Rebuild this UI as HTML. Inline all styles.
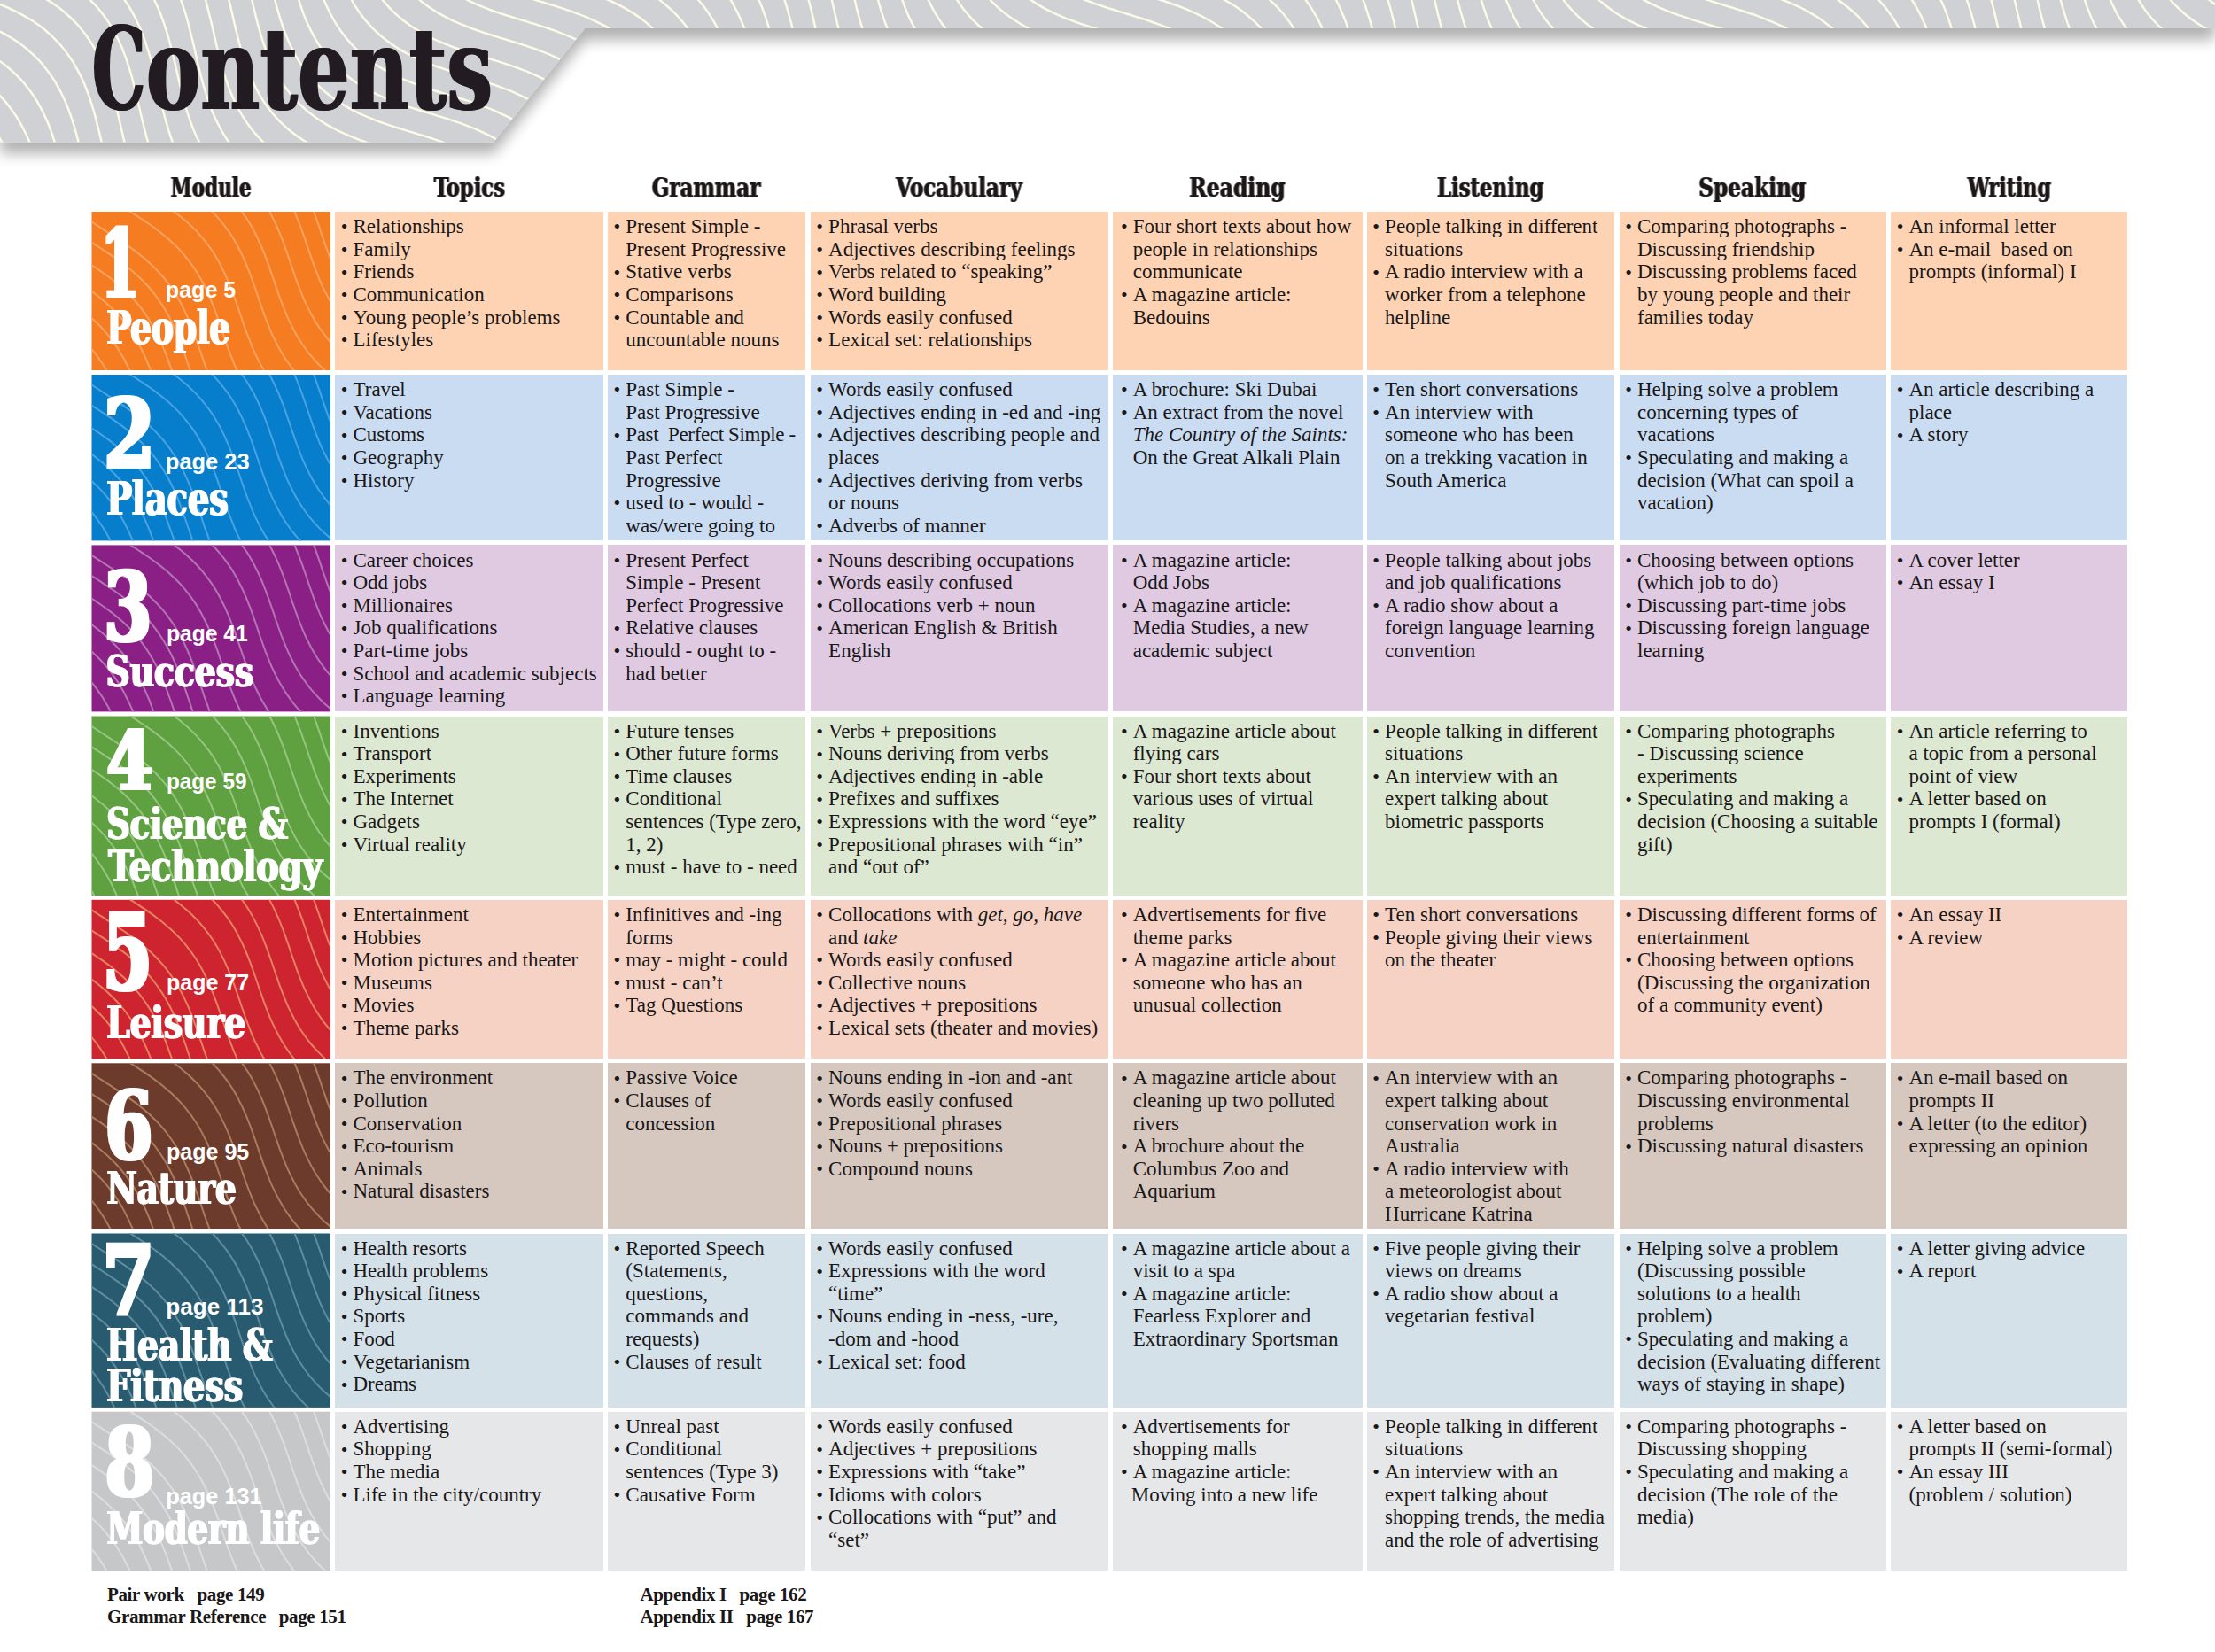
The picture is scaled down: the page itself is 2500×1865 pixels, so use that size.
<!DOCTYPE html>
<html lang="en"><head><meta charset="utf-8"><title>Contents</title>
<style>
html,body{margin:0;padding:0;background:#fff}
body{width:2500px;height:1865px;position:relative;overflow:hidden;font-family:"Liberation Serif",serif;color:#1a1718}
#art{position:absolute;left:0;top:0}
.c{position:absolute;box-sizing:border-box;padding:4.2px 0 0 20.5px;font-size:23px;line-height:25.6px;white-space:nowrap;letter-spacing:0}
.c p{margin:0;position:relative}
.c p b{position:absolute;left:-13.8px;top:0.3px;font-size:22px;font-weight:normal}
.ft{position:absolute;font-weight:bold;font-size:21px;line-height:25.3px;white-space:pre;letter-spacing:-0.36px}
</style></head><body>
<div class="c" style="left:378.0px;top:239.0px;width:303.0px;height:179.0px;background:#fdd3b4"><p><b>•</b>Relationships</p><p><b>•</b>Family</p><p><b>•</b>Friends</p><p><b>•</b>Communication</p><p><b>•</b>Young people’s problems</p><p><b>•</b>Lifestyles</p></div>
<div class="c" style="left:685.8px;top:239.0px;width:223.7px;height:179.0px;background:#fdd3b4"><p><b>•</b>Present Simple -<br>Present Progressive</p><p><b>•</b>Stative verbs</p><p><b>•</b>Comparisons</p><p><b>•</b>Countable and<br>uncountable nouns</p></div>
<div class="c" style="left:914.6px;top:239.0px;width:336.2px;height:179.0px;background:#fdd3b4"><p><b>•</b>Phrasal verbs</p><p><b>•</b>Adjectives describing feelings</p><p><b>•</b>Verbs related to “speaking”</p><p><b>•</b>Word building</p><p><b>•</b>Words easily confused</p><p><b>•</b>Lexical set: relationships</p></div>
<div class="c" style="left:1256.0px;top:239.0px;width:281.6px;height:179.0px;background:#fdd3b4;padding-left:22.7px"><p><b>•</b>Four short texts about how<br>people in relationships<br>communicate</p><p><b>•</b>A magazine article:<br>Bedouins</p></div>
<div class="c" style="left:1542.6px;top:239.0px;width:279.9px;height:179.0px;background:#fdd3b4"><p><b>•</b>People talking in different<br>situations</p><p><b>•</b>A radio interview with a<br>worker from a telephone<br>helpline</p></div>
<div class="c" style="left:1827.5px;top:239.0px;width:301.5px;height:179.0px;background:#fdd3b4"><p><b>•</b>Comparing photographs -<br>Discussing friendship</p><p><b>•</b>Discussing problems faced<br>by young people and their<br>families today</p></div>
<div class="c" style="left:2134.0px;top:239.0px;width:267.0px;height:179.0px;background:#fdd3b4"><p><b>•</b>An informal letter</p><p><b>•</b>An e-mail&nbsp; based on<br>prompts (informal) I</p></div>
<div class="c" style="left:378.0px;top:423.0px;width:303.0px;height:187.4px;background:#c9dcf2"><p><b>•</b>Travel</p><p><b>•</b>Vacations</p><p><b>•</b>Customs</p><p><b>•</b>Geography</p><p><b>•</b>History</p></div>
<div class="c" style="left:685.8px;top:423.0px;width:223.7px;height:187.4px;background:#c9dcf2"><p><b>•</b>Past Simple -<br>Past Progressive</p><p><b>•</b><span style="letter-spacing:-0.35px">Past&nbsp; Perfect Simple -</span><br>Past Perfect<br>Progressive</p><p><b>•</b>used to - would -<br>was/were going to</p></div>
<div class="c" style="left:914.6px;top:423.0px;width:336.2px;height:187.4px;background:#c9dcf2"><p><b>•</b>Words easily confused</p><p><b>•</b>Adjectives ending in -ed and -ing</p><p><b>•</b>Adjectives describing people and<br>places</p><p><b>•</b>Adjectives deriving from verbs<br>or nouns</p><p><b>•</b>Adverbs of manner</p></div>
<div class="c" style="left:1256.0px;top:423.0px;width:281.6px;height:187.4px;background:#c9dcf2;padding-left:22.7px"><p><b>•</b>A brochure: Ski Dubai</p><p><b>•</b>An extract from the novel<br><i>The Country of the Saints:</i><br>On the Great Alkali Plain</p></div>
<div class="c" style="left:1542.6px;top:423.0px;width:279.9px;height:187.4px;background:#c9dcf2"><p><b>•</b>Ten short conversations</p><p><b>•</b>An interview with<br>someone who has been<br>on a trekking vacation in<br>South America</p></div>
<div class="c" style="left:1827.5px;top:423.0px;width:301.5px;height:187.4px;background:#c9dcf2"><p><b>•</b>Helping solve a problem<br>concerning types of<br>vacations</p><p><b>•</b>Speculating and making a<br>decision (What can spoil a<br>vacation)</p></div>
<div class="c" style="left:2134.0px;top:423.0px;width:267.0px;height:187.4px;background:#c9dcf2"><p><b>•</b>An article describing a<br>place</p><p><b>•</b>A story</p></div>
<div class="c" style="left:378.0px;top:615.4px;width:303.0px;height:188.0px;background:#dfcae2"><p><b>•</b>Career choices</p><p><b>•</b>Odd jobs</p><p><b>•</b>Millionaires</p><p><b>•</b>Job qualifications</p><p><b>•</b>Part-time jobs</p><p><b>•</b>School and academic subjects</p><p><b>•</b>Language learning</p></div>
<div class="c" style="left:685.8px;top:615.4px;width:223.7px;height:188.0px;background:#dfcae2"><p><b>•</b>Present Perfect<br>Simple - Present<br>Perfect Progressive</p><p><b>•</b>Relative clauses</p><p><b>•</b>should - ought to -<br>had better</p></div>
<div class="c" style="left:914.6px;top:615.4px;width:336.2px;height:188.0px;background:#dfcae2"><p><b>•</b>Nouns describing occupations</p><p><b>•</b>Words easily confused</p><p><b>•</b>Collocations verb + noun</p><p><b>•</b>American English &amp; British<br>English</p></div>
<div class="c" style="left:1256.0px;top:615.4px;width:281.6px;height:188.0px;background:#dfcae2;padding-left:22.7px"><p><b>•</b>A magazine article:<br>Odd Jobs</p><p><b>•</b>A magazine article:<br>Media Studies, a new<br>academic subject</p></div>
<div class="c" style="left:1542.6px;top:615.4px;width:279.9px;height:188.0px;background:#dfcae2"><p><b>•</b>People talking about jobs<br>and job qualifications</p><p><b>•</b>A radio show about a<br>foreign language learning<br>convention</p></div>
<div class="c" style="left:1827.5px;top:615.4px;width:301.5px;height:188.0px;background:#dfcae2"><p><b>•</b>Choosing between options<br>(which job to do)</p><p><b>•</b>Discussing part-time jobs</p><p><b>•</b>Discussing foreign language<br>learning</p></div>
<div class="c" style="left:2134.0px;top:615.4px;width:267.0px;height:188.0px;background:#dfcae2"><p><b>•</b>A cover letter</p><p><b>•</b>An essay I</p></div>
<div class="c" style="left:378.0px;top:808.5px;width:303.0px;height:202.5px;background:#dde8d2"><p><b>•</b>Inventions</p><p><b>•</b>Transport</p><p><b>•</b>Experiments</p><p><b>•</b>The Internet</p><p><b>•</b>Gadgets</p><p><b>•</b>Virtual reality</p></div>
<div class="c" style="left:685.8px;top:808.5px;width:223.7px;height:202.5px;background:#dde8d2"><p><b>•</b>Future tenses</p><p><b>•</b>Other future forms</p><p><b>•</b>Time clauses</p><p><b>•</b>Conditional<br>sentences (Type zero,<br>1, 2)</p><p><b>•</b>must - have to - need</p></div>
<div class="c" style="left:914.6px;top:808.5px;width:336.2px;height:202.5px;background:#dde8d2"><p><b>•</b>Verbs + prepositions</p><p><b>•</b>Nouns deriving from verbs</p><p><b>•</b>Adjectives ending in -able</p><p><b>•</b>Prefixes and suffixes</p><p><b>•</b>Expressions with the word “eye”</p><p><b>•</b>Prepositional phrases with “in”<br>and “out of”</p></div>
<div class="c" style="left:1256.0px;top:808.5px;width:281.6px;height:202.5px;background:#dde8d2;padding-left:22.7px"><p><b>•</b>A magazine article about<br>flying cars</p><p><b>•</b>Four short texts about<br>various uses of virtual<br>reality</p></div>
<div class="c" style="left:1542.6px;top:808.5px;width:279.9px;height:202.5px;background:#dde8d2"><p><b>•</b>People talking in different<br>situations</p><p><b>•</b>An interview with an<br>expert talking about<br>biometric passports</p></div>
<div class="c" style="left:1827.5px;top:808.5px;width:301.5px;height:202.5px;background:#dde8d2"><p><b>•</b>Comparing photographs<br>- Discussing science<br>experiments</p><p><b>•</b>Speculating and making a<br>decision (Choosing a suitable<br>gift)</p></div>
<div class="c" style="left:2134.0px;top:808.5px;width:267.0px;height:202.5px;background:#dde8d2"><p><b>•</b>An article referring to<br>a topic from a personal<br>point of view</p><p><b>•</b>A letter based on<br>prompts I (formal)</p></div>
<div class="c" style="left:378.0px;top:1015.8px;width:303.0px;height:179.4px;background:#f5d2c4"><p><b>•</b>Entertainment</p><p><b>•</b>Hobbies</p><p><b>•</b>Motion pictures and theater</p><p><b>•</b>Museums</p><p><b>•</b>Movies</p><p><b>•</b>Theme parks</p></div>
<div class="c" style="left:685.8px;top:1015.8px;width:223.7px;height:179.4px;background:#f5d2c4"><p><b>•</b>Infinitives and -ing<br>forms</p><p><b>•</b>may - might - could</p><p><b>•</b>must - can’t</p><p><b>•</b>Tag Questions</p></div>
<div class="c" style="left:914.6px;top:1015.8px;width:336.2px;height:179.4px;background:#f5d2c4"><p><b>•</b>Collocations with <i>get, go, have</i><br>and <i>take</i></p><p><b>•</b>Words easily confused</p><p><b>•</b>Collective nouns</p><p><b>•</b>Adjectives + prepositions</p><p><b>•</b>Lexical sets (theater and movies)</p></div>
<div class="c" style="left:1256.0px;top:1015.8px;width:281.6px;height:179.4px;background:#f5d2c4;padding-left:22.7px"><p><b>•</b>Advertisements for five<br>theme parks</p><p><b>•</b>A magazine article about<br>someone who has an<br>unusual collection</p></div>
<div class="c" style="left:1542.6px;top:1015.8px;width:279.9px;height:179.4px;background:#f5d2c4"><p><b>•</b>Ten short conversations</p><p><b>•</b>People giving their views<br>on the theater</p></div>
<div class="c" style="left:1827.5px;top:1015.8px;width:301.5px;height:179.4px;background:#f5d2c4"><p><b>•</b>Discussing different forms of<br>entertainment</p><p><b>•</b>Choosing between options<br>(Discussing the organization<br>of a community event)</p></div>
<div class="c" style="left:2134.0px;top:1015.8px;width:267.0px;height:179.4px;background:#f5d2c4"><p><b>•</b>An essay II</p><p><b>•</b>A review</p></div>
<div class="c" style="left:378.0px;top:1200.3px;width:303.0px;height:187.1px;background:#d7c8bf"><p><b>•</b>The environment</p><p><b>•</b>Pollution</p><p><b>•</b>Conservation</p><p><b>•</b>Eco-tourism</p><p><b>•</b>Animals</p><p><b>•</b>Natural disasters</p></div>
<div class="c" style="left:685.8px;top:1200.3px;width:223.7px;height:187.1px;background:#d7c8bf"><p><b>•</b>Passive Voice</p><p><b>•</b>Clauses of<br>concession</p></div>
<div class="c" style="left:914.6px;top:1200.3px;width:336.2px;height:187.1px;background:#d7c8bf"><p><b>•</b>Nouns ending in -ion and -ant</p><p><b>•</b>Words easily confused</p><p><b>•</b>Prepositional phrases</p><p><b>•</b>Nouns + prepositions</p><p><b>•</b>Compound nouns</p></div>
<div class="c" style="left:1256.0px;top:1200.3px;width:281.6px;height:187.1px;background:#d7c8bf;padding-left:22.7px"><p><b>•</b>A magazine article about<br>cleaning up two polluted<br>rivers</p><p><b>•</b>A brochure about the<br>Columbus Zoo and<br>Aquarium</p></div>
<div class="c" style="left:1542.6px;top:1200.3px;width:279.9px;height:187.1px;background:#d7c8bf"><p><b>•</b>An interview with an<br>expert talking about<br>conservation work in<br>Australia</p><p><b>•</b>A radio interview with<br>a meteorologist about<br>Hurricane Katrina</p></div>
<div class="c" style="left:1827.5px;top:1200.3px;width:301.5px;height:187.1px;background:#d7c8bf"><p><b>•</b>Comparing photographs -<br>Discussing environmental<br>problems</p><p><b>•</b>Discussing natural disasters</p></div>
<div class="c" style="left:2134.0px;top:1200.3px;width:267.0px;height:187.1px;background:#d7c8bf"><p><b>•</b>An e-mail based on<br>prompts II</p><p><b>•</b>A letter (to the editor)<br>expressing an opinion</p></div>
<div class="c" style="left:378.0px;top:1392.5px;width:303.0px;height:196.4px;background:#d4e1e8"><p><b>•</b>Health resorts</p><p><b>•</b>Health problems</p><p><b>•</b>Physical fitness</p><p><b>•</b>Sports</p><p><b>•</b>Food</p><p><b>•</b>Vegetarianism</p><p><b>•</b>Dreams</p></div>
<div class="c" style="left:685.8px;top:1392.5px;width:223.7px;height:196.4px;background:#d4e1e8"><p><b>•</b>Reported Speech<br>(Statements,<br>questions,<br>commands and<br>requests)</p><p><b>•</b>Clauses of result</p></div>
<div class="c" style="left:914.6px;top:1392.5px;width:336.2px;height:196.4px;background:#d4e1e8"><p><b>•</b>Words easily confused</p><p><b>•</b>Expressions with the word<br>“time”</p><p><b>•</b>Nouns ending in -ness, -ure,<br>-dom and -hood</p><p><b>•</b>Lexical set: food</p></div>
<div class="c" style="left:1256.0px;top:1392.5px;width:281.6px;height:196.4px;background:#d4e1e8;padding-left:22.7px"><p><b>•</b>A magazine article about a<br>visit to a spa</p><p><b>•</b>A magazine article:<br>Fearless Explorer and<br>Extraordinary Sportsman</p></div>
<div class="c" style="left:1542.6px;top:1392.5px;width:279.9px;height:196.4px;background:#d4e1e8"><p><b>•</b>Five people giving their<br>views on dreams</p><p><b>•</b>A radio show about a<br>vegetarian festival</p></div>
<div class="c" style="left:1827.5px;top:1392.5px;width:301.5px;height:196.4px;background:#d4e1e8"><p><b>•</b>Helping solve a problem<br>(Discussing possible<br>solutions to a health<br>problem)</p><p><b>•</b>Speculating and making a<br>decision (Evaluating different<br>ways of staying in shape)</p></div>
<div class="c" style="left:2134.0px;top:1392.5px;width:267.0px;height:196.4px;background:#d4e1e8"><p><b>•</b>A letter giving advice</p><p><b>•</b>A report</p></div>
<div class="c" style="left:378.0px;top:1593.7px;width:303.0px;height:179.5px;background:#e6e7e8"><p><b>•</b>Advertising</p><p><b>•</b>Shopping</p><p><b>•</b>The media</p><p><b>•</b>Life in the city/country</p></div>
<div class="c" style="left:685.8px;top:1593.7px;width:223.7px;height:179.5px;background:#e6e7e8"><p><b>•</b>Unreal past</p><p><b>•</b>Conditional<br>sentences (Type 3)</p><p><b>•</b>Causative Form</p></div>
<div class="c" style="left:914.6px;top:1593.7px;width:336.2px;height:179.5px;background:#e6e7e8"><p><b>•</b>Words easily confused</p><p><b>•</b>Adjectives + prepositions</p><p><b>•</b>Expressions with “take”</p><p><b>•</b>Idioms with colors</p><p><b>•</b>Collocations with “put” and<br>“set”</p></div>
<div class="c" style="left:1256.0px;top:1593.7px;width:281.6px;height:179.5px;background:#e6e7e8;padding-left:22.7px"><p><b>•</b>Advertisements for<br>shopping malls</p><p><b>•</b>A magazine article:<br><span style="margin-left:-2px">Moving into a new life</span></p></div>
<div class="c" style="left:1542.6px;top:1593.7px;width:279.9px;height:179.5px;background:#e6e7e8"><p><b>•</b>People talking in different<br>situations</p><p><b>•</b>An interview with an<br>expert talking about<br>shopping trends, the media<br>and the role of advertising</p></div>
<div class="c" style="left:1827.5px;top:1593.7px;width:301.5px;height:179.5px;background:#e6e7e8"><p><b>•</b>Comparing photographs -<br>Discussing shopping</p><p><b>•</b>Speculating and making a<br>decision (The role of the<br>media)</p></div>
<div class="c" style="left:2134.0px;top:1593.7px;width:267.0px;height:179.5px;background:#e6e7e8"><p><b>•</b>A letter based on<br>prompts II (semi-formal)</p><p><b>•</b>An essay III<br>(problem / solution)</p></div>
<div class="ft" style="left:121px;top:1787.8px">Pair work   page 149
Grammar Reference   page 151</div>
<div class="ft" style="left:722.5px;top:1787.8px">Appendix I   page 162
Appendix II   page 167</div>
<svg id="art" width="2500" height="1865" viewBox="0 0 2500 1865">
<defs><filter id="sh" x="-5%" y="-20%" width="110%" height="160%"><feGaussianBlur in="SourceAlpha" stdDeviation="8"/><feOffset dx="0" dy="13"/><feComponentTransfer><feFuncA type="linear" slope="0.31"/></feComponentTransfer><feMerge><feMergeNode/><feMergeNode in="SourceGraphic"/></feMerge></filter>
<filter id="f1" x="-5%" y="-20%" width="110%" height="140%"><feMorphology operator="dilate" radius="1 0" result="d"/><feComponentTransfer in="d" result="e"><feFuncA type="linear" slope="1.00"/></feComponentTransfer><feMerge><feMergeNode in="e"/><feMergeNode in="SourceGraphic"/></feMerge></filter>
<filter id="f2" x="-5%" y="-20%" width="110%" height="140%"><feMorphology operator="dilate" radius="1 0" result="d"/><feComponentTransfer in="d" result="e"><feFuncA type="linear" slope="0.55"/></feComponentTransfer><feMerge><feMergeNode in="e"/><feMergeNode in="SourceGraphic"/></feMerge></filter>
<filter id="f3" x="-5%" y="-20%" width="110%" height="140%"><feMorphology operator="dilate" radius="2 1" result="d"/><feComponentTransfer in="d" result="e"><feFuncA type="linear" slope="1.00"/></feComponentTransfer><feMerge><feMergeNode in="e"/><feMergeNode in="SourceGraphic"/></feMerge></filter>
<filter id="f4" x="-5%" y="-20%" width="110%" height="140%"><feMorphology operator="dilate" radius="1 0" result="d"/><feComponentTransfer in="d" result="e"><feFuncA type="linear" slope="1.00"/></feComponentTransfer><feMerge><feMergeNode in="e"/><feMergeNode in="SourceGraphic"/></feMerge></filter>
<clipPath id="band"><path d="M0,0H2500V32H660L557,160.5H0Z"/></clipPath>
<clipPath id="m0"><rect x="103.5" y="239.0" width="269.5" height="179.0"/></clipPath>
<clipPath id="m1"><rect x="103.5" y="423.0" width="269.5" height="187.4"/></clipPath>
<clipPath id="m2"><rect x="103.5" y="615.4" width="269.5" height="188.0"/></clipPath>
<clipPath id="m3"><rect x="103.5" y="808.5" width="269.5" height="202.5"/></clipPath>
<clipPath id="m4"><rect x="103.5" y="1015.8" width="269.5" height="179.4"/></clipPath>
<clipPath id="m5"><rect x="103.5" y="1200.3" width="269.5" height="187.1"/></clipPath>
<clipPath id="m6"><rect x="103.5" y="1392.5" width="269.5" height="196.4"/></clipPath>
<clipPath id="m7"><rect x="103.5" y="1593.7" width="269.5" height="179.5"/></clipPath>
</defs>
<path d="M0,0H2500V32H660L557,160.5H0Z" fill="#d0d1d4" filter="url(#sh)"/>
<g clip-path="url(#band)" fill="none" stroke="#fdfbe8" stroke-width="2.4">
<path d="M-9.1,143.1 -6.2,147.2 -3.3,151.3 -0.6,155.6 1.9,160.1 4.4,164.6 6.8,169.2 9.0,174.0"/>
<path d="M-8.3,100.3 -4.6,103.6 -1.1,107.1 2.4,110.6 5.7,114.3 8.8,118.2 11.9,122.1 14.8,126.2 17.7,130.3 20.4,134.6 22.9,139.1 25.4,143.6 27.8,148.2 30.0,153.0 32.2,157.8 34.2,162.8 36.1,167.9 38.0,173.0"/>
<path d="M-7.3,64.3 -3.1,67.1 1.1,69.9 5.1,72.9 9.0,76.0 12.7,79.3 16.4,82.6 19.9,86.1 23.4,89.6 26.7,93.3 29.8,97.2 32.9,101.1 35.8,105.2 38.7,109.3 41.4,113.6 43.9,118.1 46.4,122.6 48.8,127.2 51.0,132.0 53.2,136.8 55.2,141.8 57.1,146.9 59.0,152.0 60.7,157.3 62.4,162.6 64.0,168.0 65.5,173.5"/>
<path d="M-9.1,31.1 -4.3,33.3 0.3,35.7 4.9,38.1 9.3,40.7 13.7,43.3 17.9,46.1 22.1,48.9 26.1,51.9 30.0,55.0 33.7,58.3 37.4,61.6 40.9,65.1 44.4,68.6 47.7,72.3 50.8,76.2 53.9,80.1 56.8,84.2 59.7,88.3 62.4,92.6 64.9,97.1 67.4,101.6 69.8,106.2 72.0,111.0 74.2,115.8 76.2,120.8 78.1,125.9 80.0,131.0 81.7,136.3 83.4,141.6 85.0,147.0 86.5,152.5 87.9,158.1 89.3,163.7 90.7,169.3 92.1,174.9"/>
<path d="M-8.0,2.0 -2.9,3.9 2.1,5.9 7.1,7.9 11.9,10.1 16.7,12.3 21.3,14.7 25.9,17.1 30.3,19.7 34.7,22.3 38.9,25.1 43.1,27.9 47.1,30.9 51.0,34.0 54.7,37.3 58.4,40.6 61.9,44.1 65.4,47.6 68.7,51.3 71.8,55.2 74.9,59.1 77.8,63.2 80.7,67.3 83.4,71.6 85.9,76.1 88.4,80.6 90.8,85.2 93.0,90.0 95.2,94.8 97.2,99.8 99.1,104.9 101.0,110.0 102.7,115.3 104.4,120.6 106.0,126.0 107.5,131.5 108.9,137.1 110.3,142.7 111.7,148.3 113.1,153.9 114.4,159.6 115.7,165.3 117.0,171.0"/>
<path d="M37.7,-8.7 42.3,-6.3 46.9,-3.9 51.3,-1.3 55.7,1.3 59.9,4.1 64.1,6.9 68.1,9.9 72.0,13.0 75.7,16.3 79.4,19.6 82.9,23.1 86.4,26.6 89.7,30.3 92.8,34.2 95.9,38.1 98.8,42.2 101.7,46.3 104.4,50.6 106.9,55.1 109.4,59.6 111.8,64.2 114.0,69.0 116.2,73.8 118.2,78.8 120.1,83.9 122.0,89.0 123.7,94.3 125.4,99.6 127.0,105.0 128.5,110.5 129.9,116.1 131.3,121.7 132.7,127.3 134.1,132.9 135.4,138.6 136.7,144.3 138.0,150.0 139.3,155.7 140.7,161.3 142.1,166.9 143.5,172.5"/>
<path d="M93.0,-8.0 96.7,-4.7 100.4,-1.4 103.9,2.1 107.4,5.6 110.7,9.3 113.8,13.2 116.9,17.1 119.8,21.2 122.7,25.3 125.4,29.6 127.9,34.1 130.4,38.6 132.8,43.2 135.0,48.0 137.2,52.8 139.2,57.8 141.1,62.9 143.0,68.0 144.7,73.3 146.4,78.6 148.0,84.0 149.5,89.5 150.9,95.1 152.3,100.7 153.7,106.3 155.1,111.9 156.4,117.6 157.7,123.3 159.0,129.0 160.3,134.7 161.7,140.3 163.1,145.9 164.5,151.5 166.0,157.0 167.6,162.4 169.2,167.8 170.9,173.1"/>
<path d="M134.8,-7.8 137.9,-3.9 140.8,0.2 143.7,4.3 146.4,8.6 148.9,13.1 151.4,17.6 153.8,22.2 156.0,27.0 158.2,31.8 160.2,36.8 162.1,41.9 164.0,47.0 165.7,52.3 167.4,57.6 169.0,63.0 170.5,68.5 171.9,74.1 173.3,79.7 174.7,85.3 176.1,90.9 177.4,96.6 178.7,102.3 180.0,108.0 181.3,113.7 182.7,119.3 184.1,124.9 185.5,130.5 187.0,136.0 188.6,141.4 190.2,146.8 191.9,152.1 193.7,157.3 195.5,162.5 197.5,167.5 199.6,172.4"/>
<path d="M169.9,-7.9 172.4,-3.4 174.8,1.2 177.0,6.0 179.2,10.8 181.2,15.8 183.1,20.9 185.0,26.0 186.7,31.3 188.4,36.6 190.0,42.0 191.5,47.5 192.9,53.1 194.3,58.7 195.7,64.3 197.1,69.9 198.4,75.6 199.7,81.3 201.0,87.0 202.3,92.7 203.7,98.3 205.1,103.9 206.5,109.5 208.0,115.0 209.6,120.4 211.2,125.8 212.9,131.1 214.7,136.3 216.5,141.5 218.5,146.5 220.6,151.4 222.8,156.2 225.1,160.9 227.5,165.5 230.0,170.0 232.6,174.4"/>
<path d="M202.2,-5.2 204.1,-0.1 206.0,5.0 207.7,10.3 209.4,15.6 211.0,21.0 212.5,26.5 213.9,32.1 215.3,37.7 216.7,43.3 218.1,48.9 219.4,54.6 220.7,60.3 222.0,66.0 223.3,71.7 224.7,77.3 226.1,82.9 227.5,88.5 229.0,94.0 230.6,99.4 232.2,104.8 233.9,110.1 235.7,115.3 237.5,120.5 239.5,125.5 241.6,130.4 243.8,135.2 246.1,139.9 248.5,144.5 251.0,149.0 253.6,153.4 256.4,157.6 259.2,161.8 262.2,165.8 265.3,169.7 268.6,173.4"/>
<path d="M230.4,-5.4 232.0,0.0 233.5,5.5 234.9,11.1 236.3,16.7 237.7,22.3 239.1,27.9 240.4,33.6 241.7,39.3 243.0,45.0 244.3,50.7 245.7,56.3 247.1,61.9 248.5,67.5 250.0,73.0 251.6,78.4 253.2,83.8 254.9,89.1 256.7,94.3 258.5,99.5 260.5,104.5 262.6,109.4 264.8,114.2 267.1,118.9 269.5,123.5 272.0,128.0 274.6,132.4 277.4,136.6 280.2,140.8 283.2,144.8 286.3,148.7 289.6,152.4 292.9,156.1 296.4,159.6 300.0,163.0 303.7,166.3 307.5,169.5 311.5,172.5"/>
<path d="M255.9,-9.9 257.3,-4.3 258.7,1.3 260.1,6.9 261.4,12.6 262.7,18.3 264.0,24.0 265.3,29.7 266.7,35.3 268.1,40.9 269.5,46.5 271.0,52.0 272.6,57.4 274.2,62.8 275.9,68.1 277.7,73.3 279.5,78.5 281.5,83.5 283.6,88.4 285.8,93.2 288.1,97.9 290.5,102.5 293.0,107.0 295.6,111.4 298.4,115.6 301.2,119.8 304.2,123.8 307.3,127.7 310.6,131.4 313.9,135.1 317.4,138.6 321.0,142.0 324.7,145.3 328.5,148.5 332.5,151.5 336.5,154.5 340.7,157.3 345.0,160.0 349.4,162.6 353.9,165.1 358.5,167.5 363.2,169.8 368.0,172.0 372.9,174.1"/>
<path d="M282.4,-8.4 283.7,-2.7 285.0,3.0 286.3,8.7 287.7,14.3 289.1,19.9 290.5,25.5 292.0,31.0 293.6,36.4 295.2,41.8 296.9,47.1 298.7,52.3 300.5,57.5 302.5,62.5 304.6,67.4 306.8,72.2 309.1,76.9 311.5,81.5 314.0,86.0 316.6,90.4 319.4,94.6 322.2,98.8 325.2,102.8 328.3,106.7 331.6,110.4 334.9,114.1 338.4,117.6 342.0,121.0 345.7,124.3 349.5,127.5 353.5,130.5 357.5,133.5 361.7,136.3 366.0,139.0 370.4,141.6 374.9,144.1 379.5,146.5 384.2,148.8 389.0,151.0 393.9,153.1 398.9,155.1 403.9,157.1 409.0,159.0 414.2,160.8 419.4,162.6 424.7,164.3 430.0,166.0 435.3,167.7 440.7,169.3 446.1,170.9 451.4,172.6 456.8,174.2"/>
<path d="M308.7,-6.7 310.1,-1.1 311.5,4.5 313.0,10.0 314.6,15.4 316.2,20.8 317.9,26.1 319.7,31.3 321.5,36.5 323.5,41.5 325.6,46.4 327.8,51.2 330.1,55.9 332.5,60.5 335.0,65.0 337.6,69.4 340.4,73.6 343.2,77.8 346.2,81.8 349.3,85.7 352.6,89.4 355.9,93.1 359.4,96.6 363.0,100.0 366.7,103.3 370.5,106.5 374.5,109.5 378.5,112.5 382.7,115.3 387.0,118.0 391.4,120.6 395.9,123.1 400.5,125.5 405.2,127.8 410.0,130.0 414.9,132.1 419.9,134.1 424.9,136.1 430.0,138.0 435.2,139.8 440.4,141.6 445.7,143.3 451.0,145.0 456.3,146.7 461.7,148.3 467.1,149.9 472.4,151.6 477.8,153.2 483.1,154.9 488.4,156.6 493.6,158.4 498.8,160.2 503.9,162.1 509.0,164.0 514.0,166.0 518.9,168.1 523.7,170.3 528.4,172.6 533.1,174.9"/>
<path d="M335.6,-5.6 337.2,-0.2 338.9,5.1 340.7,10.3 342.5,15.5 344.5,20.5 346.6,25.4 348.8,30.2 351.1,34.9 353.5,39.5 356.0,44.0 358.6,48.4 361.4,52.6 364.2,56.8 367.2,60.8 370.3,64.7 373.6,68.4 376.9,72.1 380.4,75.6 384.0,79.0 387.7,82.3 391.5,85.5 395.5,88.5 399.5,91.5 403.7,94.3 408.0,97.0 412.4,99.6 416.9,102.1 421.5,104.5 426.2,106.8 431.0,109.0 435.9,111.1 440.9,113.1 445.9,115.1 451.0,117.0 456.2,118.8 461.4,120.6 466.7,122.3 472.0,124.0 477.3,125.7 482.7,127.3 488.1,128.9 493.4,130.6 498.8,132.2 504.1,133.9 509.4,135.6 514.6,137.4 519.8,139.2 524.9,141.1 530.0,143.0 535.0,145.0 539.9,147.1 544.7,149.3 549.4,151.6 554.1,153.9 558.6,156.4 563.0,159.0 567.4,161.6 571.6,164.4 575.7,167.3 579.6,170.4 583.5,173.5"/>
<path d="M363.5,-5.5 365.5,-0.5 367.6,4.4 369.8,9.2 372.1,13.9 374.5,18.5 377.0,23.0 379.6,27.4 382.4,31.6 385.2,35.8 388.2,39.8 391.3,43.7 394.6,47.4 397.9,51.1 401.4,54.6 405.0,58.0 408.7,61.3 412.5,64.5 416.5,67.5 420.5,70.5 424.7,73.3 429.0,76.0 433.4,78.6 437.9,81.1 442.5,83.5 447.2,85.8 452.0,88.0 456.9,90.1 461.9,92.1 466.9,94.1 472.0,96.0 477.2,97.8 482.4,99.6 487.7,101.3 493.0,103.0 498.3,104.7 503.7,106.3 509.1,107.9 514.4,109.6 519.8,111.2 525.1,112.9 530.4,114.6 535.6,116.4 540.8,118.2 545.9,120.1 551.0,122.0 556.0,124.0 560.9,126.1 565.7,128.3 570.4,130.6 575.1,132.9 579.6,135.4 584.0,138.0 588.4,140.6 592.6,143.4 596.7,146.3 600.6,149.4 604.5,152.5 608.2,155.8 611.9,159.1 615.4,162.6 618.8,166.2 622.0,170.0 625.2,173.8"/>
<path d="M393.1,-7.1 395.5,-2.5 398.0,2.0 400.6,6.4 403.4,10.6 406.2,14.8 409.2,18.8 412.3,22.7 415.6,26.4 418.9,30.1 422.4,33.6 426.0,37.0 429.7,40.3 433.5,43.5 437.5,46.5 441.5,49.5 445.7,52.3 450.0,55.0 454.4,57.6 458.9,60.1 463.5,62.5 468.2,64.8 473.0,67.0 477.9,69.1 482.9,71.1 487.9,73.1 493.0,75.0 498.2,76.8 503.4,78.6 508.7,80.3 514.0,82.0 519.3,83.7 524.7,85.3 530.1,86.9 535.4,88.6 540.8,90.2 546.1,91.9 551.4,93.6 556.6,95.4 561.8,97.2 566.9,99.1 572.0,101.0 577.0,103.0 581.9,105.1 586.7,107.3 591.4,109.6 596.1,111.9 600.6,114.4 605.0,117.0 609.4,119.6 613.6,122.4 617.7,125.3 621.6,128.4 625.5,131.5 629.2,134.8 632.9,138.1 636.4,141.6 639.8,145.2 643.0,149.0 646.2,152.8 649.2,156.8 652.1,160.9 654.9,165.1 657.6,169.4 660.1,173.9"/>
<path d="M427.2,-6.2 430.2,-2.2 433.3,1.7 436.6,5.4 439.9,9.1 443.4,12.6 447.0,16.0 450.7,19.3 454.5,22.5 458.5,25.5 462.5,28.5 466.7,31.3 471.0,34.0 475.4,36.6 479.9,39.1 484.5,41.5 489.2,43.8 494.0,46.0 498.9,48.1 503.9,50.1 508.9,52.1 514.0,54.0 519.2,55.8 524.4,57.6 529.7,59.3 535.0,61.0 540.3,62.7 545.7,64.3 551.1,65.9 556.4,67.6 561.8,69.2 567.1,70.9 572.4,72.6 577.6,74.4 582.8,76.2 587.9,78.1 593.0,80.0 598.0,82.0 602.9,84.1 607.7,86.3 612.4,88.6 617.1,90.9 621.6,93.4 626.0,96.0 630.4,98.6 634.6,101.4 638.7,104.3 642.6,107.4 646.5,110.5 650.2,113.8 653.9,117.1 657.4,120.6 660.8,124.2 664.0,128.0 667.2,131.8 670.2,135.8 673.1,139.9 675.9,144.1 678.6,148.4 681.1,152.9 683.5,157.5 685.9,162.1 688.1,166.9 690.2,171.8"/>
<path d="M464.4,-8.4 468.0,-5.0 471.7,-1.7 475.5,1.5 479.5,4.5 483.5,7.5 487.7,10.3 492.0,13.0 496.4,15.6 500.9,18.1 505.5,20.5 510.2,22.8 515.0,25.0 519.9,27.1 524.9,29.1 529.9,31.1 535.0,33.0 540.2,34.8 545.4,36.6 550.7,38.3 556.0,40.0 561.3,41.7 566.7,43.3 572.1,44.9 577.4,46.6 582.8,48.2 588.1,49.9 593.4,51.6 598.6,53.4 603.8,55.2 608.9,57.1 614.0,59.0 619.0,61.0 623.9,63.1 628.7,65.3 633.4,67.6 638.1,69.9 642.6,72.4 647.0,75.0 651.4,77.6 655.6,80.4 659.7,83.3 663.6,86.4 667.5,89.5 671.2,92.8 674.9,96.1 678.4,99.6 681.8,103.2 685.0,107.0 688.2,110.8 691.2,114.8 694.1,118.9 696.9,123.1 699.6,127.4 702.1,131.9 704.5,136.5 706.9,141.1 709.1,145.9 711.2,150.8 713.2,155.8 715.1,160.9 716.9,166.1 718.6,171.4"/>
<path d="M513.0,-8.0 517.4,-5.4 521.9,-2.9 526.5,-0.5 531.2,1.8 536.0,4.0 540.9,6.1 545.9,8.1 550.9,10.1 556.0,12.0 561.2,13.8 566.4,15.6 571.7,17.3 577.0,19.0 582.3,20.7 587.7,22.3 593.1,23.9 598.4,25.6 603.8,27.2 609.1,28.9 614.4,30.6 619.6,32.4 624.8,34.2 629.9,36.1 635.0,38.0 640.0,40.0 644.9,42.1 649.7,44.3 654.4,46.6 659.1,48.9 663.6,51.4 668.0,54.0 672.4,56.6 676.6,59.4 680.7,62.3 684.6,65.4 688.5,68.5 692.2,71.8 695.9,75.1 699.4,78.6 702.8,82.2 706.0,86.0 709.2,89.8 712.2,93.8 715.1,97.9 717.9,102.1 720.6,106.4 723.1,110.9 725.5,115.5 727.9,120.1 730.1,124.9 732.2,129.8 734.2,134.8 736.1,139.9 737.9,145.1 739.6,150.4 741.3,155.7 742.8,161.2 744.3,166.7 745.8,172.2"/>
<path d="M577.0,-9.0 582.2,-7.2 587.4,-5.4 592.7,-3.7 598.0,-2.0 603.3,-0.3 608.7,1.3 614.1,2.9 619.4,4.6 624.8,6.2 630.1,7.9 635.4,9.6 640.6,11.4 645.8,13.2 650.9,15.1 656.0,17.0 661.0,19.0 665.9,21.1 670.7,23.3 675.4,25.6 680.1,27.9 684.6,30.4 689.0,33.0 693.4,35.6 697.6,38.4 701.7,41.3 705.6,44.4 709.5,47.5 713.2,50.8 716.9,54.1 720.4,57.6 723.8,61.2 727.0,65.0 730.2,68.8 733.2,72.8 736.1,76.9 738.9,81.1 741.6,85.4 744.1,89.9 746.5,94.5 748.9,99.1 751.1,103.9 753.2,108.8 755.2,113.8 757.1,118.9 758.9,124.1 760.6,129.4 762.3,134.7 763.8,140.2 765.3,145.7 766.8,151.2 768.2,156.8 769.6,162.4 770.9,168.1 772.2,173.8"/>
<path d="M661.6,-9.6 666.8,-7.8 671.9,-5.9 677.0,-4.0 682.0,-2.0 686.9,0.1 691.7,2.3 696.4,4.6 701.1,6.9 705.6,9.4 710.0,12.0 714.4,14.6 718.6,17.4 722.7,20.3 726.6,23.4 730.5,26.5 734.2,29.8 737.9,33.1 741.4,36.6 744.8,40.2 748.0,44.0 751.2,47.8 754.2,51.8 757.1,55.9 759.9,60.1 762.6,64.4 765.1,68.9 767.5,73.5 769.9,78.1 772.1,82.9 774.2,87.8 776.2,92.8 778.1,97.9 779.9,103.1 781.6,108.4 783.3,113.7 784.8,119.2 786.3,124.7 787.8,130.2 789.2,135.8 790.6,141.4 791.9,147.1 793.2,152.8 794.5,158.5 795.8,164.2 797.2,169.8"/>
<path d="M731.0,-9.0 735.4,-6.4 739.6,-3.6 743.7,-0.7 747.6,2.4 751.5,5.5 755.2,8.8 758.9,12.1 762.4,15.6 765.8,19.2 769.0,23.0 772.2,26.8 775.2,30.8 778.1,34.9 780.9,39.1 783.6,43.4 786.1,47.9 788.5,52.5 790.9,57.1 793.1,61.9 795.2,66.8 797.2,71.8 799.1,76.9 800.9,82.1 802.6,87.4 804.3,92.7 805.8,98.2 807.3,103.7 808.8,109.2 810.2,114.8 811.6,120.4 812.9,126.1 814.2,131.8 815.5,137.5 816.8,143.2 818.2,148.8 819.5,154.5 820.9,160.1 822.4,165.6 823.9,171.1"/>
<path d="M779.9,-8.9 783.4,-5.4 786.8,-1.8 790.0,2.0 793.2,5.8 796.2,9.8 799.1,13.9 801.9,18.1 804.6,22.4 807.1,26.9 809.5,31.5 811.9,36.1 814.1,40.9 816.2,45.8 818.2,50.8 820.1,55.9 821.9,61.1 823.6,66.4 825.3,71.7 826.8,77.2 828.3,82.7 829.8,88.2 831.2,93.8 832.6,99.4 833.9,105.1 835.2,110.8 836.5,116.5 837.8,122.2 839.2,127.8 840.5,133.5 841.9,139.1 843.4,144.6 844.9,150.1 846.5,155.5 848.1,160.9 849.8,166.2 851.6,171.4"/>
<path d="M820.1,-7.1 822.9,-2.9 825.6,1.4 828.1,5.9 830.5,10.5 832.9,15.1 835.1,19.9 837.2,24.8 839.2,29.8 841.1,34.9 842.9,40.1 844.6,45.4 846.3,50.7 847.8,56.2 849.3,61.7 850.8,67.2 852.2,72.8 853.6,78.4 854.9,84.1 856.2,89.8 857.5,95.5 858.8,101.2 860.2,106.8 861.5,112.5 862.9,118.1 864.4,123.6 865.9,129.1 867.5,134.5 869.1,139.9 870.8,145.2 872.6,150.4 874.5,155.5 876.5,160.5 878.6,165.4 880.9,170.1 883.2,174.8"/>
<path d="M853.9,-5.9 856.1,-1.1 858.2,3.8 860.2,8.8 862.1,13.9 863.9,19.1 865.6,24.4 867.3,29.7 868.8,35.2 870.3,40.7 871.8,46.2 873.2,51.8 874.6,57.4 875.9,63.1 877.2,68.8 878.5,74.5 879.8,80.2 881.2,85.8 882.5,91.5 883.9,97.1 885.4,102.6 886.9,108.1 888.5,113.5 890.1,118.9 891.8,124.2 893.6,129.4 895.5,134.5 897.5,139.5 899.6,144.4 901.9,149.1 904.2,153.8 906.6,158.4 909.2,162.8 911.8,167.2 914.6,171.4"/>
<path d="M883.1,-7.1 884.9,-1.9 886.6,3.4 888.3,8.7 889.8,14.2 891.3,19.7 892.8,25.2 894.2,30.8 895.6,36.4 896.9,42.1 898.2,47.8 899.5,53.5 900.8,59.2 902.2,64.8 903.5,70.5 904.9,76.1 906.4,81.6 907.9,87.1 909.5,92.5 911.1,97.9 912.8,103.2 914.6,108.4 916.5,113.5 918.5,118.5 920.6,123.4 922.9,128.1 925.2,132.8 927.6,137.4 930.2,141.8 932.8,146.2 935.6,150.4 938.5,154.5 941.5,158.5 944.7,162.3 948.0,166.0 951.3,169.7 954.9,173.1"/>
<path d="M910.8,-6.8 912.3,-1.3 913.8,4.2 915.2,9.8 916.6,15.4 917.9,21.1 919.2,26.8 920.5,32.5 921.8,38.2 923.2,43.8 924.5,49.5 925.9,55.1 927.4,60.6 928.9,66.1 930.5,71.5 932.1,76.9 933.8,82.2 935.6,87.4 937.5,92.5 939.5,97.5 941.6,102.4 943.9,107.1 946.2,111.8 948.6,116.4 951.2,120.8 953.8,125.2 956.6,129.4 959.5,133.5 962.5,137.5 965.7,141.3 969.0,145.0 972.3,148.7 975.9,152.1 979.5,155.5 983.2,158.8 987.1,161.9 991.1,164.9 995.2,167.8 999.4,170.6 1003.7,173.3"/>
<path d="M937.6,-5.6 938.9,0.1 940.2,5.8 941.5,11.5 942.8,17.2 944.2,22.8 945.5,28.5 946.9,34.1 948.4,39.6 949.9,45.1 951.5,50.5 953.1,55.9 954.8,61.2 956.6,66.4 958.5,71.5 960.5,76.5 962.6,81.4 964.9,86.1 967.2,90.8 969.6,95.4 972.2,99.8 974.8,104.2 977.6,108.4 980.5,112.5 983.5,116.5 986.7,120.3 990.0,124.0 993.3,127.7 996.9,131.1 1000.5,134.5 1004.2,137.8 1008.1,140.9 1012.1,143.9 1016.2,146.8 1020.4,149.6 1024.7,152.3 1029.1,154.9 1033.6,157.4 1038.3,159.7 1043.0,162.0 1047.8,164.2 1052.7,166.3 1057.7,168.3 1062.8,170.2 1067.9,172.1 1073.1,173.9"/>
<path d="M962.5,-9.5 963.8,-3.8 965.2,1.8 966.5,7.5 967.9,13.1 969.4,18.6 970.9,24.1 972.5,29.5 974.1,34.9 975.8,40.2 977.6,45.4 979.5,50.5 981.5,55.5 983.6,60.4 985.9,65.1 988.2,69.8 990.6,74.4 993.2,78.8 995.8,83.2 998.6,87.4 1001.5,91.5 1004.5,95.5 1007.7,99.3 1011.0,103.0 1014.3,106.7 1017.9,110.1 1021.5,113.5 1025.2,116.8 1029.1,119.9 1033.1,122.9 1037.2,125.8 1041.4,128.6 1045.7,131.3 1050.1,133.9 1054.6,136.4 1059.3,138.7 1064.0,141.0 1068.8,143.2 1073.7,145.3 1078.7,147.3 1083.8,149.2 1088.9,151.1 1094.1,152.9 1099.4,154.6 1104.6,156.4 1110.0,158.0 1115.3,159.7 1120.7,161.3 1126.0,163.0 1131.4,164.6 1136.7,166.3 1142.0,168.0 1147.3,169.7 1152.5,171.5 1157.7,173.3"/>
<path d="M988.9,-7.9 990.4,-2.4 991.9,3.1 993.5,8.5 995.1,13.9 996.8,19.2 998.6,24.4 1000.5,29.5 1002.5,34.5 1004.6,39.4 1006.9,44.1 1009.2,48.8 1011.6,53.4 1014.2,57.8 1016.8,62.2 1019.6,66.4 1022.5,70.5 1025.5,74.5 1028.7,78.3 1032.0,82.0 1035.3,85.7 1038.9,89.1 1042.5,92.5 1046.2,95.8 1050.1,98.9 1054.1,101.9 1058.2,104.8 1062.4,107.6 1066.7,110.3 1071.1,112.9 1075.6,115.4 1080.3,117.7 1085.0,120.0 1089.8,122.2 1094.7,124.3 1099.7,126.3 1104.8,128.2 1109.9,130.1 1115.1,131.9 1120.4,133.6 1125.6,135.4 1131.0,137.0 1136.3,138.7 1141.7,140.3 1147.0,142.0 1152.4,143.6 1157.7,145.3 1163.0,147.0 1168.3,148.7 1173.5,150.5 1178.7,152.3 1183.8,154.2 1188.9,156.1 1193.8,158.2 1198.7,160.3 1203.5,162.5 1208.2,164.8 1212.8,167.2 1217.3,169.7 1221.7,172.3 1226.0,175.0"/>
<path d="M1016.1,-7.1 1017.8,-1.8 1019.6,3.4 1021.5,8.5 1023.5,13.5 1025.6,18.4 1027.9,23.1 1030.2,27.8 1032.6,32.4 1035.2,36.8 1037.8,41.2 1040.6,45.4 1043.5,49.5 1046.5,53.5 1049.7,57.3 1053.0,61.0 1056.3,64.7 1059.9,68.1 1063.5,71.5 1067.2,74.8 1071.1,77.9 1075.1,80.9 1079.2,83.8 1083.4,86.6 1087.7,89.3 1092.1,91.9 1096.6,94.4 1101.3,96.7 1106.0,99.0 1110.8,101.2 1115.7,103.3 1120.7,105.3 1125.8,107.2 1130.9,109.1 1136.1,110.9 1141.4,112.6 1146.6,114.4 1152.0,116.0 1157.3,117.7 1162.7,119.3 1168.0,121.0 1173.4,122.6 1178.7,124.3 1184.0,126.0 1189.3,127.7 1194.5,129.5 1199.7,131.3 1204.8,133.2 1209.9,135.1 1214.8,137.2 1219.7,139.3 1224.5,141.5 1229.2,143.8 1233.8,146.2 1238.3,148.7 1242.7,151.3 1247.0,154.0 1251.2,156.8 1255.2,159.8 1259.2,162.8 1263.0,166.0 1266.7,169.3 1270.3,172.7"/>
<path d="M1044.5,-7.5 1046.6,-2.6 1048.9,2.1 1051.2,6.8 1053.6,11.4 1056.2,15.8 1058.8,20.2 1061.6,24.4 1064.5,28.5 1067.5,32.5 1070.7,36.3 1074.0,40.0 1077.3,43.7 1080.9,47.1 1084.5,50.5 1088.2,53.8 1092.1,56.9 1096.1,59.9 1100.2,62.8 1104.4,65.6 1108.7,68.3 1113.1,70.9 1117.6,73.4 1122.3,75.7 1127.0,78.0 1131.8,80.2 1136.7,82.3 1141.7,84.3 1146.8,86.2 1151.9,88.1 1157.1,89.9 1162.4,91.6 1167.6,93.4 1173.0,95.0 1178.3,96.7 1183.7,98.3 1189.0,100.0 1194.4,101.6 1199.7,103.3 1205.0,105.0 1210.3,106.7 1215.5,108.5 1220.7,110.3 1225.8,112.2 1230.9,114.1 1235.8,116.2 1240.7,118.3 1245.5,120.5 1250.2,122.8 1254.8,125.2 1259.3,127.7 1263.7,130.3 1268.0,133.0 1272.2,135.8 1276.2,138.8 1280.2,141.8 1284.0,145.0 1287.7,148.3 1291.3,151.7 1294.8,155.2 1298.2,158.8 1301.4,162.6 1304.5,166.5 1307.5,170.5 1310.4,174.6"/>
<path d="M1074.6,-9.6 1077.2,-5.2 1079.8,-0.8 1082.6,3.4 1085.5,7.5 1088.5,11.5 1091.7,15.3 1095.0,19.0 1098.3,22.7 1101.9,26.1 1105.5,29.5 1109.2,32.8 1113.1,35.9 1117.1,38.9 1121.2,41.8 1125.4,44.6 1129.7,47.3 1134.1,49.9 1138.6,52.4 1143.3,54.7 1148.0,57.0 1152.8,59.2 1157.7,61.3 1162.7,63.3 1167.8,65.2 1172.9,67.1 1178.1,68.9 1183.4,70.6 1188.6,72.4 1194.0,74.0 1199.3,75.7 1204.7,77.3 1210.0,79.0 1215.4,80.6 1220.7,82.3 1226.0,84.0 1231.3,85.7 1236.5,87.5 1241.7,89.3 1246.8,91.2 1251.9,93.1 1256.8,95.2 1261.7,97.3 1266.5,99.5 1271.2,101.8 1275.8,104.2 1280.3,106.7 1284.7,109.3 1289.0,112.0 1293.2,114.8 1297.2,117.8 1301.2,120.8 1305.0,124.0 1308.7,127.3 1312.3,130.7 1315.8,134.2 1319.2,137.8 1322.4,141.6 1325.5,145.5 1328.5,149.5 1331.4,153.6 1334.1,157.9 1336.7,162.3 1339.3,166.7 1341.7,171.3"/>
<path d="M1109.5,-9.5 1112.7,-5.7 1116.0,-2.0 1119.3,1.7 1122.9,5.1 1126.5,8.5 1130.2,11.8 1134.1,14.9 1138.1,17.9 1142.2,20.8 1146.4,23.6 1150.7,26.3 1155.1,28.9 1159.6,31.4 1164.3,33.7 1169.0,36.0 1173.8,38.2 1178.7,40.3 1183.7,42.3 1188.8,44.2 1193.9,46.1 1199.1,47.9 1204.4,49.6 1209.6,51.4 1215.0,53.0 1220.3,54.7 1225.7,56.3 1231.0,58.0 1236.4,59.6 1241.7,61.3 1247.0,63.0 1252.3,64.7 1257.5,66.5 1262.7,68.3 1267.8,70.2 1272.9,72.1 1277.8,74.2 1282.7,76.3 1287.5,78.5 1292.2,80.8 1296.8,83.2 1301.3,85.7 1305.7,88.3 1310.0,91.0 1314.2,93.8 1318.2,96.8 1322.2,99.8 1326.0,103.0 1329.7,106.3 1333.3,109.7 1336.8,113.2 1340.2,116.8 1343.4,120.6 1346.5,124.5 1349.5,128.5 1352.4,132.6 1355.1,136.9 1357.7,141.3 1360.3,145.7 1362.7,150.3 1365.0,155.0 1367.1,159.9 1369.2,164.8 1371.2,169.8 1373.1,174.9"/>
<path d="M1151.2,-9.2 1155.1,-6.1 1159.1,-3.1 1163.2,-0.2 1167.4,2.6 1171.7,5.3 1176.1,7.9 1180.6,10.4 1185.3,12.7 1190.0,15.0 1194.8,17.2 1199.7,19.3 1204.7,21.3 1209.8,23.2 1214.9,25.1 1220.1,26.9 1225.4,28.6 1230.6,30.4 1236.0,32.0 1241.3,33.7 1246.7,35.3 1252.0,37.0 1257.4,38.6 1262.7,40.3 1268.0,42.0 1273.3,43.7 1278.5,45.5 1283.7,47.3 1288.8,49.2 1293.9,51.1 1298.8,53.2 1303.7,55.3 1308.5,57.5 1313.2,59.8 1317.8,62.2 1322.3,64.7 1326.7,67.3 1331.0,70.0 1335.2,72.8 1339.2,75.8 1343.2,78.8 1347.0,82.0 1350.7,85.3 1354.3,88.7 1357.8,92.2 1361.2,95.8 1364.4,99.6 1367.5,103.5 1370.5,107.5 1373.4,111.6 1376.1,115.9 1378.7,120.3 1381.3,124.7 1383.7,129.3 1386.0,134.0 1388.1,138.9 1390.2,143.8 1392.2,148.8 1394.1,153.9 1395.8,159.2 1397.5,164.5 1399.2,169.8"/>
<path d="M1206.3,-8.3 1211.0,-6.0 1215.8,-3.8 1220.7,-1.7 1225.7,0.3 1230.8,2.2 1235.9,4.1 1241.1,5.9 1246.4,7.6 1251.6,9.4 1257.0,11.0 1262.3,12.7 1267.7,14.3 1273.0,16.0 1278.4,17.6 1283.7,19.3 1289.0,21.0 1294.3,22.7 1299.5,24.5 1304.7,26.3 1309.8,28.2 1314.9,30.1 1319.8,32.2 1324.7,34.3 1329.5,36.5 1334.2,38.8 1338.8,41.2 1343.3,43.7 1347.7,46.3 1352.0,49.0 1356.2,51.8 1360.2,54.8 1364.2,57.8 1368.0,61.0 1371.7,64.3 1375.3,67.7 1378.8,71.2 1382.2,74.8 1385.4,78.6 1388.5,82.5 1391.5,86.5 1394.4,90.6 1397.1,94.9 1399.7,99.3 1402.3,103.7 1404.7,108.3 1407.0,113.0 1409.1,117.9 1411.2,122.8 1413.2,127.8 1415.1,132.9 1416.8,138.2 1418.5,143.5 1420.2,148.8 1421.7,154.3 1423.2,159.8 1424.6,165.4 1426.0,171.0"/>
<path d="M1278.0,-10.0 1283.3,-8.3 1288.7,-6.7 1294.0,-5.0 1299.4,-3.4 1304.7,-1.7 1310.0,-0.0 1315.3,1.7 1320.5,3.5 1325.7,5.3 1330.8,7.2 1335.9,9.1 1340.8,11.2 1345.7,13.3 1350.5,15.5 1355.2,17.8 1359.8,20.2 1364.3,22.7 1368.7,25.3 1373.0,28.0 1377.2,30.8 1381.2,33.8 1385.2,36.8 1389.0,40.0 1392.7,43.3 1396.3,46.7 1399.8,50.2 1403.2,53.8 1406.4,57.6 1409.5,61.5 1412.5,65.5 1415.4,69.6 1418.1,73.9 1420.7,78.3 1423.3,82.7 1425.7,87.3 1428.0,92.0 1430.1,96.9 1432.2,101.8 1434.2,106.8 1436.1,111.9 1437.8,117.2 1439.5,122.5 1441.2,127.8 1442.7,133.3 1444.2,138.8 1445.6,144.4 1447.0,150.0 1448.4,155.6 1449.7,161.3 1451.0,167.0 1452.3,172.7"/>
<path d="M1361.8,-9.8 1366.7,-7.7 1371.5,-5.5 1376.2,-3.2 1380.8,-0.8 1385.3,1.7 1389.7,4.3 1394.0,7.0 1398.2,9.8 1402.2,12.8 1406.2,15.8 1410.0,19.0 1413.7,22.3 1417.3,25.7 1420.8,29.2 1424.2,32.8 1427.4,36.6 1430.5,40.5 1433.5,44.5 1436.4,48.6 1439.1,52.9 1441.7,57.3 1444.3,61.7 1446.7,66.3 1449.0,71.0 1451.1,75.9 1453.2,80.8 1455.2,85.8 1457.1,90.9 1458.8,96.2 1460.5,101.5 1462.2,106.8 1463.7,112.3 1465.2,117.8 1466.6,123.4 1468.0,129.0 1469.4,134.6 1470.7,140.3 1472.0,146.0 1473.3,151.7 1474.7,157.3 1476.0,163.0 1477.4,168.6 1478.8,174.2"/>
<path d="M1423.2,-8.2 1427.2,-5.2 1431.0,-2.0 1434.7,1.3 1438.3,4.7 1441.8,8.2 1445.2,11.8 1448.4,15.6 1451.5,19.5 1454.5,23.5 1457.4,27.6 1460.1,31.9 1462.7,36.3 1465.3,40.7 1467.7,45.3 1470.0,50.0 1472.1,54.9 1474.2,59.8 1476.2,64.8 1478.1,69.9 1479.8,75.2 1481.5,80.5 1483.2,85.8 1484.7,91.3 1486.2,96.8 1487.6,102.4 1489.0,108.0 1490.4,113.6 1491.7,119.3 1493.0,125.0 1494.3,130.7 1495.7,136.3 1497.0,142.0 1498.4,147.6 1499.8,153.2 1501.2,158.8 1502.8,164.2 1504.4,169.6 1506.0,175.0"/>
<path d="M1466.2,-9.2 1469.4,-5.4 1472.5,-1.5 1475.5,2.5 1478.4,6.6 1481.1,10.9 1483.7,15.3 1486.3,19.7 1488.7,24.3 1491.0,29.0 1493.1,33.9 1495.2,38.8 1497.2,43.8 1499.1,48.9 1500.8,54.2 1502.5,59.5 1504.2,64.8 1505.7,70.3 1507.2,75.8 1508.6,81.4 1510.0,87.0 1511.4,92.6 1512.7,98.3 1514.0,104.0 1515.3,109.7 1516.7,115.3 1518.0,121.0 1519.4,126.6 1520.8,132.2 1522.2,137.8 1523.8,143.2 1525.4,148.6 1527.0,154.0 1528.8,159.2 1530.6,164.4 1532.5,169.5 1534.6,174.4"/>
<path d="M1504.7,-5.7 1507.3,-1.3 1509.7,3.3 1512.0,8.0 1514.1,12.9 1516.2,17.8 1518.2,22.8 1520.1,27.9 1521.8,33.2 1523.5,38.5 1525.2,43.8 1526.7,49.3 1528.2,54.8 1529.6,60.4 1531.0,66.0 1532.4,71.6 1533.7,77.3 1535.0,83.0 1536.3,88.7 1537.7,94.3 1539.0,100.0 1540.4,105.6 1541.8,111.2 1543.2,116.8 1544.8,122.2 1546.4,127.6 1548.0,133.0 1549.8,138.2 1551.6,143.4 1553.5,148.5 1555.6,153.4 1557.7,158.3 1560.0,163.0 1562.3,167.7 1564.8,172.2"/>
<path d="M1535.1,-8.1 1537.2,-3.2 1539.2,1.8 1541.1,6.9 1542.8,12.2 1544.5,17.5 1546.2,22.8 1547.7,28.3 1549.2,33.8 1550.6,39.4 1552.0,45.0 1553.4,50.6 1554.7,56.3 1556.0,62.0 1557.3,67.7 1558.7,73.3 1560.0,79.0 1561.4,84.6 1562.8,90.2 1564.2,95.8 1565.8,101.2 1567.4,106.6 1569.0,112.0 1570.8,117.2 1572.6,122.4 1574.5,127.5 1576.6,132.4 1578.7,137.3 1581.0,142.0 1583.3,146.7 1585.8,151.2 1588.4,155.6 1591.1,159.9 1593.9,164.1 1596.8,168.2 1599.9,172.1"/>
<path d="M1563.8,-8.8 1565.5,-3.5 1567.2,1.8 1568.7,7.3 1570.2,12.8 1571.6,18.4 1573.0,24.0 1574.4,29.6 1575.7,35.3 1577.0,41.0 1578.3,46.7 1579.7,52.3 1581.0,58.0 1582.4,63.6 1583.8,69.2 1585.2,74.8 1586.8,80.2 1588.4,85.6 1590.0,91.0 1591.8,96.2 1593.6,101.4 1595.5,106.5 1597.6,111.4 1599.7,116.3 1602.0,121.0 1604.3,125.7 1606.8,130.2 1609.4,134.6 1612.1,138.9 1614.9,143.1 1617.8,147.2 1620.9,151.1 1624.1,154.9 1627.4,158.6 1630.8,162.2 1634.3,165.7 1638.0,169.0 1641.8,172.2"/>
<path d="M1591.2,-8.2 1592.6,-2.6 1594.0,3.0 1595.4,8.6 1596.7,14.3 1598.0,20.0 1599.3,25.7 1600.7,31.3 1602.0,37.0 1603.4,42.6 1604.8,48.2 1606.2,53.8 1607.8,59.2 1609.4,64.6 1611.0,70.0 1612.8,75.2 1614.6,80.4 1616.5,85.5 1618.6,90.4 1620.7,95.3 1623.0,100.0 1625.3,104.7 1627.8,109.2 1630.4,113.6 1633.1,117.9 1635.9,122.1 1638.8,126.2 1641.9,130.1 1645.1,133.9 1648.4,137.6 1651.8,141.2 1655.3,144.7 1659.0,148.0 1662.8,151.2 1666.7,154.3 1670.7,157.3 1674.8,160.2 1679.0,163.0 1683.4,165.6 1687.8,168.2 1692.4,170.6 1697.1,172.9"/>
<path d="M1617.7,-6.7 1619.0,-1.0 1620.3,4.7 1621.7,10.3 1623.0,16.0 1624.4,21.6 1625.8,27.2 1627.2,32.8 1628.8,38.2 1630.4,43.6 1632.0,49.0 1633.8,54.2 1635.6,59.4 1637.5,64.5 1639.6,69.4 1641.7,74.3 1644.0,79.0 1646.3,83.7 1648.8,88.2 1651.4,92.6 1654.1,96.9 1656.9,101.1 1659.8,105.2 1662.9,109.1 1666.1,112.9 1669.4,116.6 1672.8,120.2 1676.3,123.7 1680.0,127.0 1683.8,130.2 1687.7,133.3 1691.7,136.3 1695.8,139.2 1700.0,142.0 1704.4,144.6 1708.8,147.2 1713.4,149.6 1718.1,151.9 1722.8,154.2 1727.7,156.3 1732.6,158.4 1737.6,160.4 1742.7,162.3 1747.8,164.2 1753.1,165.9 1758.3,167.7 1763.6,169.4 1768.9,171.1 1774.3,172.7 1779.6,174.4"/>
<path d="M1644.0,-5.0 1645.4,0.6 1646.8,6.2 1648.2,11.8 1649.8,17.2 1651.4,22.6 1653.0,28.0 1654.8,33.2 1656.6,38.4 1658.5,43.5 1660.6,48.4 1662.7,53.3 1665.0,58.0 1667.3,62.7 1669.8,67.2 1672.4,71.6 1675.1,75.9 1677.9,80.1 1680.8,84.2 1683.9,88.1 1687.1,91.9 1690.4,95.6 1693.8,99.2 1697.3,102.7 1701.0,106.0 1704.8,109.2 1708.7,112.3 1712.7,115.3 1716.8,118.2 1721.0,121.0 1725.4,123.6 1729.8,126.2 1734.4,128.6 1739.1,130.9 1743.8,133.2 1748.7,135.3 1753.6,137.4 1758.6,139.4 1763.7,141.3 1768.8,143.2 1774.1,144.9 1779.3,146.7 1784.6,148.4 1789.9,150.1 1795.3,151.7 1800.6,153.4 1806.0,155.0 1811.4,156.6 1816.7,158.3 1822.0,160.0 1827.2,161.8 1832.5,163.5 1837.6,165.4 1842.7,167.3 1847.7,169.3 1852.7,171.3 1857.5,173.5"/>
<path d="M1669.2,-9.2 1670.8,-3.8 1672.4,1.6 1674.0,7.0 1675.8,12.2 1677.6,17.4 1679.5,22.5 1681.6,27.4 1683.7,32.3 1686.0,37.0 1688.3,41.7 1690.8,46.2 1693.4,50.6 1696.1,54.9 1698.9,59.1 1701.8,63.2 1704.9,67.1 1708.1,70.9 1711.4,74.6 1714.8,78.2 1718.3,81.7 1722.0,85.0 1725.8,88.2 1729.7,91.3 1733.7,94.3 1737.8,97.2 1742.0,100.0 1746.4,102.6 1750.8,105.2 1755.4,107.6 1760.1,109.9 1764.8,112.2 1769.7,114.3 1774.6,116.4 1779.6,118.4 1784.7,120.3 1789.8,122.2 1795.1,123.9 1800.3,125.7 1805.6,127.4 1810.9,129.1 1816.3,130.7 1821.6,132.4 1827.0,134.0 1832.4,135.6 1837.7,137.3 1843.0,139.0 1848.2,140.8 1853.5,142.5 1858.6,144.4 1863.7,146.3 1868.7,148.3 1873.7,150.3 1878.5,152.5 1883.3,154.7 1888.0,157.0 1892.6,159.4 1897.0,162.0 1901.4,164.6 1905.7,167.3 1909.8,170.2 1913.8,173.2"/>
<path d="M1696.8,-8.8 1698.6,-3.6 1700.5,1.5 1702.6,6.4 1704.7,11.3 1707.0,16.0 1709.3,20.7 1711.8,25.2 1714.4,29.6 1717.1,33.9 1719.9,38.1 1722.8,42.2 1725.9,46.1 1729.1,49.9 1732.4,53.6 1735.8,57.2 1739.3,60.7 1743.0,64.0 1746.8,67.2 1750.7,70.3 1754.7,73.3 1758.8,76.2 1763.0,79.0 1767.4,81.6 1771.8,84.2 1776.4,86.6 1781.1,88.9 1785.8,91.2 1790.7,93.3 1795.6,95.4 1800.6,97.4 1805.7,99.3 1810.8,101.2 1816.1,102.9 1821.3,104.7 1826.6,106.4 1831.9,108.1 1837.3,109.7 1842.6,111.4 1848.0,113.0 1853.4,114.6 1858.7,116.3 1864.0,118.0 1869.2,119.8 1874.5,121.5 1879.6,123.4 1884.7,125.3 1889.7,127.3 1894.7,129.3 1899.5,131.5 1904.3,133.7 1909.0,136.0 1913.6,138.4 1918.0,141.0 1922.4,143.6 1926.7,146.3 1930.8,149.2 1934.8,152.2 1938.7,155.3 1942.5,158.5 1946.2,161.8 1949.8,165.2 1953.2,168.8 1956.5,172.5"/>
<path d="M1725.7,-9.7 1728.0,-5.0 1730.3,-0.3 1732.8,4.2 1735.4,8.6 1738.1,12.9 1740.9,17.1 1743.8,21.2 1746.9,25.1 1750.1,28.9 1753.4,32.6 1756.8,36.2 1760.3,39.7 1764.0,43.0 1767.8,46.2 1771.7,49.3 1775.7,52.3 1779.8,55.2 1784.0,58.0 1788.4,60.6 1792.8,63.2 1797.4,65.6 1802.1,67.9 1806.8,70.2 1811.7,72.3 1816.6,74.4 1821.6,76.4 1826.7,78.3 1831.8,80.2 1837.1,81.9 1842.3,83.7 1847.6,85.4 1852.9,87.1 1858.3,88.7 1863.6,90.4 1869.0,92.0 1874.4,93.6 1879.7,95.3 1885.0,97.0 1890.2,98.8 1895.5,100.5 1900.6,102.4 1905.7,104.3 1910.7,106.3 1915.7,108.3 1920.5,110.5 1925.3,112.7 1930.0,115.0 1934.6,117.4 1939.0,120.0 1943.4,122.6 1947.7,125.3 1951.8,128.2 1955.8,131.2 1959.7,134.3 1963.5,137.5 1967.2,140.8 1970.8,144.2 1974.2,147.8 1977.5,151.5 1980.7,155.3 1983.8,159.2 1986.8,163.2 1989.6,167.4 1992.3,171.7"/>
<path d="M1759.1,-8.1 1761.9,-3.9 1764.8,0.2 1767.9,4.1 1771.1,7.9 1774.4,11.6 1777.8,15.2 1781.3,18.7 1785.0,22.0 1788.8,25.2 1792.7,28.3 1796.7,31.3 1800.8,34.2 1805.0,37.0 1809.4,39.6 1813.8,42.2 1818.4,44.6 1823.1,46.9 1827.8,49.2 1832.7,51.3 1837.6,53.4 1842.6,55.4 1847.7,57.3 1852.8,59.2 1858.1,60.9 1863.3,62.7 1868.6,64.4 1873.9,66.1 1879.3,67.7 1884.6,69.4 1890.0,71.0 1895.4,72.6 1900.7,74.3 1906.0,76.0 1911.2,77.8 1916.5,79.5 1921.6,81.4 1926.7,83.3 1931.7,85.3 1936.7,87.3 1941.5,89.5 1946.3,91.7 1951.0,94.0 1955.6,96.4 1960.0,99.0 1964.4,101.6 1968.7,104.3 1972.8,107.2 1976.8,110.2 1980.7,113.3 1984.5,116.5 1988.2,119.8 1991.8,123.2 1995.2,126.8 1998.5,130.5 2001.7,134.3 2004.8,138.2 2007.8,142.2 2010.6,146.4 2013.3,150.7 2015.9,155.1 2018.4,159.6 2020.8,164.2 2023.0,169.0 2025.2,173.8"/>
<path d="M1795.4,-9.4 1798.8,-5.8 1802.3,-2.3 1806.0,1.0 1809.8,4.2 1813.7,7.3 1817.7,10.3 1821.8,13.2 1826.0,16.0 1830.4,18.6 1834.8,21.2 1839.4,23.6 1844.1,25.9 1848.8,28.2 1853.7,30.3 1858.6,32.4 1863.6,34.4 1868.7,36.3 1873.8,38.2 1879.1,39.9 1884.3,41.7 1889.6,43.4 1894.9,45.1 1900.3,46.7 1905.6,48.4 1911.0,50.0 1916.4,51.6 1921.7,53.3 1927.0,55.0 1932.2,56.8 1937.5,58.5 1942.6,60.4 1947.7,62.3 1952.7,64.3 1957.7,66.3 1962.5,68.5 1967.3,70.7 1972.0,73.0 1976.6,75.4 1981.0,78.0 1985.4,80.6 1989.7,83.3 1993.8,86.2 1997.8,89.2 2001.7,92.3 2005.5,95.5 2009.2,98.8 2012.8,102.2 2016.2,105.8 2019.5,109.5 2022.7,113.3 2025.8,117.2 2028.8,121.2 2031.6,125.4 2034.3,129.7 2036.9,134.1 2039.4,138.6 2041.8,143.2 2044.0,148.0 2046.2,152.8 2048.2,157.8 2050.2,162.8 2052.0,168.0 2053.8,173.2"/>
<path d="M1842.8,-7.8 1847.0,-5.0 1851.4,-2.4 1855.8,0.2 1860.4,2.6 1865.1,4.9 1869.8,7.2 1874.7,9.3 1879.6,11.4 1884.6,13.4 1889.7,15.3 1894.8,17.2 1900.1,18.9 1905.3,20.7 1910.6,22.4 1915.9,24.1 1921.3,25.7 1926.6,27.4 1932.0,29.0 1937.4,30.6 1942.7,32.3 1948.0,34.0 1953.2,35.8 1958.5,37.5 1963.6,39.4 1968.7,41.3 1973.7,43.3 1978.7,45.3 1983.5,47.5 1988.3,49.7 1993.0,52.0 1997.6,54.4 2002.0,57.0 2006.4,59.6 2010.7,62.3 2014.8,65.2 2018.8,68.2 2022.7,71.3 2026.5,74.5 2030.2,77.8 2033.8,81.2 2037.2,84.8 2040.5,88.5 2043.7,92.3 2046.8,96.2 2049.8,100.2 2052.6,104.4 2055.3,108.7 2057.9,113.1 2060.4,117.6 2062.8,122.2 2065.0,127.0 2067.2,131.8 2069.2,136.8 2071.2,141.8 2073.0,147.0 2074.8,152.2 2076.5,157.5 2078.1,162.9 2079.6,168.4 2081.1,173.9"/>
<path d="M1900.6,-9.6 1905.6,-7.6 1910.7,-5.7 1915.8,-3.8 1921.1,-2.1 1926.3,-0.3 1931.6,1.4 1936.9,3.1 1942.3,4.7 1947.6,6.4 1953.0,8.0 1958.4,9.6 1963.7,11.3 1969.0,13.0 1974.2,14.8 1979.5,16.5 1984.6,18.4 1989.7,20.3 1994.7,22.3 1999.7,24.3 2004.5,26.5 2009.3,28.7 2014.0,31.0 2018.6,33.4 2023.0,36.0 2027.4,38.6 2031.7,41.3 2035.8,44.2 2039.8,47.2 2043.7,50.3 2047.5,53.5 2051.2,56.8 2054.8,60.2 2058.2,63.8 2061.5,67.5 2064.7,71.3 2067.8,75.2 2070.8,79.2 2073.6,83.4 2076.3,87.7 2078.9,92.1 2081.4,96.6 2083.8,101.2 2086.0,106.0 2088.2,110.8 2090.2,115.8 2092.2,120.8 2094.0,126.0 2095.8,131.2 2097.5,136.5 2099.1,141.9 2100.6,147.4 2102.1,152.9 2103.5,158.5 2104.9,164.1 2106.2,169.8"/>
<path d="M1984.7,-9.7 1990.0,-8.0 1995.2,-6.2 2000.5,-4.5 2005.6,-2.6 2010.7,-0.7 2015.7,1.3 2020.7,3.3 2025.5,5.5 2030.3,7.7 2035.0,10.0 2039.6,12.4 2044.0,15.0 2048.4,17.6 2052.7,20.3 2056.8,23.2 2060.8,26.2 2064.7,29.3 2068.5,32.5 2072.2,35.8 2075.8,39.2 2079.2,42.8 2082.5,46.5 2085.7,50.3 2088.8,54.2 2091.8,58.2 2094.6,62.4 2097.3,66.7 2099.9,71.1 2102.4,75.6 2104.8,80.2 2107.0,85.0 2109.2,89.8 2111.2,94.8 2113.2,99.8 2115.0,105.0 2116.8,110.2 2118.5,115.5 2120.1,120.9 2121.6,126.4 2123.1,131.9 2124.5,137.5 2125.9,143.1 2127.2,148.8 2128.5,154.5 2129.8,160.2 2131.2,165.8 2132.5,171.5"/>
<path d="M2060.6,-8.6 2065.0,-6.0 2069.4,-3.4 2073.7,-0.7 2077.8,2.2 2081.8,5.2 2085.7,8.3 2089.5,11.5 2093.2,14.8 2096.8,18.2 2100.2,21.8 2103.5,25.5 2106.7,29.3 2109.8,33.2 2112.8,37.2 2115.6,41.4 2118.3,45.7 2120.9,50.1 2123.4,54.6 2125.8,59.2 2128.0,64.0 2130.2,68.8 2132.2,73.8 2134.2,78.8 2136.0,84.0 2137.8,89.2 2139.5,94.5 2141.1,99.9 2142.6,105.4 2144.1,110.9 2145.5,116.5 2146.9,122.1 2148.2,127.8 2149.5,133.5 2150.8,139.2 2152.2,144.8 2153.5,150.5 2154.8,156.2 2156.2,161.8 2157.6,167.4 2159.1,172.9"/>
<path d="M2110.5,-9.5 2114.2,-6.2 2117.8,-2.8 2121.2,0.8 2124.5,4.5 2127.7,8.3 2130.8,12.2 2133.8,16.2 2136.6,20.4 2139.3,24.7 2141.9,29.1 2144.4,33.6 2146.8,38.2 2149.0,43.0 2151.2,47.8 2153.2,52.8 2155.2,57.8 2157.0,63.0 2158.8,68.2 2160.5,73.5 2162.1,78.9 2163.6,84.4 2165.1,89.9 2166.5,95.5 2167.9,101.1 2169.2,106.8 2170.5,112.5 2171.8,118.2 2173.2,123.8 2174.5,129.5 2175.8,135.2 2177.2,140.8 2178.6,146.4 2180.1,151.9 2181.7,157.3 2183.3,162.7 2185.0,168.0 2186.7,173.3"/>
<path d="M2151.8,-8.8 2154.8,-4.8 2157.6,-0.6 2160.3,3.7 2162.9,8.1 2165.4,12.6 2167.8,17.2 2170.0,22.0 2172.2,26.8 2174.2,31.8 2176.2,36.8 2178.0,42.0 2179.8,47.2 2181.5,52.5 2183.1,57.9 2184.6,63.4 2186.1,68.9 2187.5,74.5 2188.9,80.1 2190.2,85.8 2191.5,91.5 2192.8,97.2 2194.2,102.8 2195.5,108.5 2196.8,114.2 2198.2,119.8 2199.6,125.4 2201.1,130.9 2202.7,136.3 2204.3,141.7 2206.0,147.0 2207.7,152.3 2209.6,157.4 2211.6,162.4 2213.6,167.4 2215.8,172.2"/>
<path d="M2186.4,-8.4 2188.8,-3.8 2191.0,1.0 2193.2,5.8 2195.2,10.8 2197.2,15.8 2199.0,21.0 2200.8,26.2 2202.5,31.5 2204.1,36.9 2205.6,42.4 2207.1,47.9 2208.5,53.5 2209.9,59.1 2211.2,64.8 2212.5,70.5 2213.8,76.2 2215.2,81.8 2216.5,87.5 2217.8,93.2 2219.2,98.8 2220.6,104.4 2222.1,109.9 2223.7,115.3 2225.3,120.7 2227.0,126.0 2228.7,131.3 2230.6,136.4 2232.6,141.4 2234.6,146.4 2236.8,151.2 2239.1,155.9 2241.4,160.6 2243.9,165.1 2246.6,169.4 2249.3,173.7"/>
<path d="M2218.2,-5.2 2220.0,-0.0 2221.8,5.2 2223.5,10.5 2225.1,15.9 2226.6,21.4 2228.1,26.9 2229.5,32.5 2230.9,38.1 2232.2,43.8 2233.5,49.5 2234.8,55.2 2236.2,60.8 2237.5,66.5 2238.8,72.2 2240.2,77.8 2241.6,83.4 2243.1,88.9 2244.7,94.3 2246.3,99.7 2248.0,105.0 2249.7,110.3 2251.6,115.4 2253.6,120.4 2255.6,125.4 2257.8,130.2 2260.1,134.9 2262.4,139.6 2264.9,144.1 2267.6,148.4 2270.3,152.7 2273.1,156.9 2276.1,160.9 2279.2,164.8 2282.4,168.6 2285.8,172.2"/>
<path d="M2246.1,-5.1 2247.6,0.4 2249.1,5.9 2250.5,11.5 2251.9,17.1 2253.2,22.8 2254.5,28.5 2255.8,34.2 2257.2,39.8 2258.5,45.5 2259.8,51.2 2261.2,56.8 2262.6,62.4 2264.1,67.9 2265.7,73.3 2267.3,78.7 2269.0,84.0 2270.7,89.3 2272.6,94.4 2274.6,99.4 2276.6,104.4 2278.8,109.2 2281.1,113.9 2283.4,118.6 2285.9,123.1 2288.6,127.4 2291.3,131.7 2294.1,135.9 2297.1,139.9 2300.2,143.8 2303.4,147.6 2306.8,151.2 2310.2,154.8 2313.8,158.2 2317.5,161.5 2321.3,164.7 2325.2,167.8 2329.3,170.7 2333.4,173.6"/>
<path d="M2271.5,-9.5 2272.9,-3.9 2274.2,1.8 2275.5,7.5 2276.8,13.2 2278.2,18.8 2279.5,24.5 2280.8,30.2 2282.2,35.8 2283.6,41.4 2285.1,46.9 2286.7,52.3 2288.3,57.7 2290.0,63.0 2291.7,68.3 2293.6,73.4 2295.6,78.4 2297.6,83.4 2299.8,88.2 2302.1,92.9 2304.4,97.6 2306.9,102.1 2309.6,106.4 2312.3,110.7 2315.1,114.9 2318.1,118.9 2321.2,122.8 2324.4,126.6 2327.8,130.2 2331.2,133.8 2334.8,137.2 2338.5,140.5 2342.3,143.7 2346.2,146.8 2350.3,149.7 2354.4,152.6 2358.7,155.3 2363.1,157.9 2367.6,160.4 2372.2,162.8 2376.9,165.1 2381.6,167.4 2386.5,169.5 2391.5,171.5 2396.5,173.5"/>
<path d="M2297.8,-7.8 2299.2,-2.2 2300.5,3.5 2301.8,9.2 2303.2,14.8 2304.6,20.4 2306.1,25.9 2307.7,31.3 2309.3,36.7 2311.0,42.0 2312.7,47.3 2314.6,52.4 2316.6,57.4 2318.6,62.4 2320.8,67.2 2323.1,71.9 2325.4,76.6 2327.9,81.1 2330.6,85.4 2333.3,89.7 2336.1,93.9 2339.1,97.9 2342.2,101.8 2345.4,105.6 2348.8,109.2 2352.2,112.8 2355.8,116.2 2359.5,119.5 2363.3,122.7 2367.2,125.8 2371.3,128.7 2375.4,131.6 2379.7,134.3 2384.1,136.9 2388.6,139.4 2393.2,141.8 2397.9,144.1 2402.6,146.4 2407.5,148.5 2412.5,150.5 2417.5,152.5 2422.6,154.4 2427.8,156.2 2433.0,158.0 2438.3,159.7 2443.6,161.4 2448.9,163.1 2454.3,164.7 2459.6,166.4 2465.0,168.0 2470.3,169.7 2475.6,171.4 2480.9,173.1 2486.2,174.8"/>
<path d="M2324.2,-6.2 2325.6,-0.6 2327.1,4.9 2328.7,10.3 2330.3,15.7 2332.0,21.0 2333.7,26.3 2335.6,31.4 2337.6,36.4 2339.6,41.4 2341.8,46.2 2344.1,50.9 2346.4,55.6 2348.9,60.1 2351.6,64.4 2354.3,68.7 2357.1,72.9 2360.1,76.9 2363.2,80.8 2366.4,84.6 2369.8,88.2 2373.2,91.8 2376.8,95.2 2380.5,98.5 2384.3,101.7 2388.2,104.8 2392.3,107.7 2396.4,110.6 2400.7,113.3 2405.1,115.9 2409.6,118.4 2414.2,120.8 2418.9,123.1 2423.6,125.4 2428.5,127.5 2433.5,129.5 2438.5,131.5 2443.6,133.4 2448.8,135.2 2454.0,137.0 2459.3,138.7 2464.6,140.4 2469.9,142.1 2475.3,143.7 2480.6,145.4 2486.0,147.0 2491.3,148.7 2496.6,150.4 2501.9,152.1 2507.2,153.8"/>
<path d="M2351.3,-5.3 2353.0,0.0 2354.7,5.3 2356.6,10.4 2358.6,15.4 2360.6,20.4 2362.8,25.2 2365.1,29.9 2367.4,34.6 2369.9,39.1 2372.6,43.4 2375.3,47.7 2378.1,51.9 2381.1,55.9 2384.2,59.8 2387.4,63.6 2390.8,67.2 2394.2,70.8 2397.8,74.2 2401.5,77.5 2405.3,80.7 2409.2,83.8 2413.3,86.7 2417.4,89.6 2421.7,92.3 2426.1,94.9 2430.6,97.4 2435.2,99.8 2439.9,102.1 2444.6,104.4 2449.5,106.5 2454.5,108.5 2459.5,110.5 2464.6,112.4 2469.8,114.2 2475.0,116.0 2480.3,117.7 2485.6,119.4 2490.9,121.1 2496.3,122.7 2501.6,124.4 2507.0,126.0"/>
<path d="M2379.6,-5.6 2381.6,-0.6 2383.8,4.2 2386.1,8.9 2388.4,13.6 2390.9,18.1 2393.6,22.4 2396.3,26.7 2399.1,30.9 2402.1,34.9 2405.2,38.8 2408.4,42.6 2411.8,46.2 2415.2,49.8 2418.8,53.2 2422.5,56.5 2426.3,59.7 2430.2,62.8 2434.3,65.7 2438.4,68.6 2442.7,71.3 2447.1,73.9 2451.6,76.4 2456.2,78.8 2460.9,81.1 2465.6,83.4 2470.5,85.5 2475.5,87.5 2480.5,89.5 2485.6,91.4 2490.8,93.2 2496.0,95.0 2501.3,96.7 2506.6,98.4"/>
<path d="M2409.4,-7.4 2411.9,-2.9 2414.6,1.4 2417.3,5.7 2420.1,9.9 2423.1,13.9 2426.2,17.8 2429.4,21.6 2432.8,25.2 2436.2,28.8 2439.8,32.2 2443.5,35.5 2447.3,38.7 2451.2,41.8 2455.3,44.7 2459.4,47.6 2463.7,50.3 2468.1,52.9 2472.6,55.4 2477.2,57.8 2481.9,60.1 2486.6,62.4 2491.5,64.5 2496.5,66.5 2501.5,68.5 2506.6,70.4"/>
<path d="M2444.1,-7.1 2447.2,-3.2 2450.4,0.6 2453.8,4.2 2457.2,7.8 2460.8,11.2 2464.5,14.5 2468.3,17.7 2472.2,20.8 2476.3,23.7 2480.4,26.6 2484.7,29.3 2489.1,31.9 2493.6,34.4 2498.2,36.8 2502.9,39.1 2507.6,41.4"/>
<path d="M2481.8,-9.8 2485.5,-6.5 2489.3,-3.3 2493.2,-0.2 2497.3,2.7 2501.4,5.6 2505.7,8.3"/>
</g>
<g filter="url(#f1)"><text transform="matrix(1.0254 0 0 1.2894 103.80 122.80)" font-family='"DejaVu Serif Condensed","DejaVu Serif",serif' font-weight="bold" font-stretch="condensed" font-size="100" fill="#231f20"><tspan textLength="59.45" lengthAdjust="spacingAndGlyphs">C</tspan>ontents</text></g>
<g filter="url(#f2)"><text transform="matrix(0.2395 0 0 0.2990 192.86 222.00)" font-family='"DejaVu Serif Condensed","DejaVu Serif",serif' font-weight="bold" font-stretch="condensed" font-size="100" fill="#1a1718">Module</text></g>
<g filter="url(#f2)"><text transform="matrix(0.2522 0 0 0.2990 489.75 222.00)" font-family='"DejaVu Serif Condensed","DejaVu Serif",serif' font-weight="bold" font-stretch="condensed" font-size="100" fill="#1a1718">Topics</text></g>
<g filter="url(#f2)"><text transform="matrix(0.2563 0 0 0.2990 735.70 222.00)" font-family='"DejaVu Serif Condensed","DejaVu Serif",serif' font-weight="bold" font-stretch="condensed" font-size="100" fill="#1a1718">Grammar</text></g>
<g filter="url(#f2)"><text transform="matrix(0.2567 0 0 0.2990 1011.33 222.00)" font-family='"DejaVu Serif Condensed","DejaVu Serif",serif' font-weight="bold" font-stretch="condensed" font-size="100" fill="#1a1718">Vocabulary</text></g>
<g filter="url(#f2)"><text transform="matrix(0.2613 0 0 0.2990 1342.20 222.00)" font-family='"DejaVu Serif Condensed","DejaVu Serif",serif' font-weight="bold" font-stretch="condensed" font-size="100" fill="#1a1718">Reading</text></g>
<g filter="url(#f2)"><text transform="matrix(0.2539 0 0 0.2990 1621.98 222.00)" font-family='"DejaVu Serif Condensed","DejaVu Serif",serif' font-weight="bold" font-stretch="condensed" font-size="100" fill="#1a1718">Listening</text></g>
<g filter="url(#f2)"><text transform="matrix(0.2585 0 0 0.2990 1917.23 222.00)" font-family='"DejaVu Serif Condensed","DejaVu Serif",serif' font-weight="bold" font-stretch="condensed" font-size="100" fill="#1a1718">Speaking</text></g>
<g filter="url(#f2)"><text transform="matrix(0.2467 0 0 0.2990 2220.70 222.00)" font-family='"DejaVu Serif Condensed","DejaVu Serif",serif' font-weight="bold" font-stretch="condensed" font-size="100" fill="#1a1718">Writing</text></g>
<rect x="103.5" y="239.0" width="269.5" height="179.0" fill="#f57c20"/>
<g clip-path="url(#m0)"><g fill="none" stroke="#f9a260" stroke-width="2" transform="translate(103.5 239.0)">
<path d="M-3.3,151.3 -0.5,154.5 2.2,157.8 4.8,161.2 7.3,164.7 9.8,168.2 12.2,171.8 14.5,175.5 16.7,179.3 18.9,183.1"/>
<path d="M-4.4,116.4 -1.1,119.1 2.0,122.0 5.1,124.9 8.1,127.9 11.1,130.9 13.9,134.1 16.7,137.3 19.4,140.6 22.0,144.0 24.6,147.4 27.1,150.9 29.5,154.5 31.8,158.2 34.0,162.0 36.2,165.8 38.2,169.8 40.2,173.8 42.2,177.8 44.0,182.0"/>
<path d="M-4.6,86.6 -1.1,89.1 2.4,91.6 5.8,94.2 9.1,96.9 12.4,99.6 15.6,102.4 18.8,105.2 21.8,108.2 24.9,111.1 27.8,114.2 30.7,117.3 33.5,120.5 36.2,123.8 38.8,127.2 41.3,130.7 43.8,134.2 46.2,137.8 48.5,141.5 50.7,145.3 52.9,149.1 55.0,153.0 57.0,157.0 58.9,161.1 60.8,165.2 62.6,169.4 64.4,173.6 66.1,177.9 67.7,182.3"/>
<path d="M-5.0,57.0 -1.4,59.4 2.2,61.8 5.8,64.2 9.4,66.6 12.9,69.1 16.4,71.6 19.9,74.1 23.3,76.7 26.6,79.4 29.9,82.1 33.1,84.9 36.3,87.7 39.3,90.7 42.4,93.6 45.3,96.7 48.2,99.8 51.0,103.0 53.7,106.3 56.3,109.7 58.8,113.2 61.3,116.7 63.7,120.3 66.0,124.0 68.2,127.8 70.4,131.6 72.5,135.5 74.5,139.5 76.4,143.6 78.3,147.7 80.1,151.9 81.9,156.1 83.6,160.4 85.2,164.8 86.8,169.2 88.4,173.6 90.0,178.0 91.5,182.5"/>
<path d="M-4.0,32.0 -0.4,34.4 3.2,36.8 6.9,39.1 10.5,41.5 14.1,43.9 17.7,46.3 21.3,48.7 24.9,51.1 28.4,53.6 31.9,56.1 35.4,58.6 38.8,61.2 42.1,63.9 45.4,66.6 48.6,69.4 51.8,72.2 54.8,75.2 57.9,78.1 60.8,81.2 63.7,84.3 66.5,87.5 69.2,90.8 71.8,94.2 74.3,97.7 76.8,101.2 79.2,104.8 81.5,108.5 83.7,112.3 85.9,116.1 88.0,120.0 90.0,124.0 91.9,128.1 93.8,132.2 95.6,136.4 97.4,140.6 99.1,144.9 100.7,149.3 102.3,153.7 103.9,158.1 105.5,162.5 107.0,167.0 108.5,171.5 110.1,175.9 111.6,180.4 113.1,184.9"/>
<path d="M-4.3,8.3 -0.8,10.8 2.7,13.3 6.3,15.7 10.0,18.0 13.6,20.4 17.2,22.8 20.9,25.1 24.5,27.5 28.1,29.9 31.7,32.3 35.3,34.7 38.9,37.1 42.4,39.6 45.9,42.1 49.4,44.6 52.8,47.2 56.1,49.9 59.4,52.6 62.6,55.4 65.8,58.2 68.8,61.2 71.9,64.1 74.8,67.2 77.7,70.3 80.5,73.5 83.2,76.8 85.8,80.2 88.3,83.7 90.8,87.2 93.2,90.8 95.5,94.5 97.7,98.3 99.9,102.1 102.0,106.0 104.0,110.0 105.9,114.1 107.8,118.2 109.6,122.4 111.4,126.6 113.1,130.9 114.7,135.3 116.3,139.7 117.9,144.1 119.5,148.5 121.0,153.0 122.5,157.5 124.1,161.9 125.6,166.4 127.1,170.9 128.7,175.3 130.3,179.7 131.9,184.1"/>
<path d="M37.8,-3.8 41.5,-1.5 45.1,0.9 48.8,3.2 52.4,5.6 56.0,8.0 59.6,10.4 63.2,12.8 66.7,15.3 70.2,17.8 73.6,20.4 77.0,23.0 80.4,25.6 83.6,28.4 86.9,31.1 90.0,34.0 93.1,36.9 96.1,39.9 99.1,42.9 101.9,46.1 104.7,49.3 107.4,52.6 110.0,56.0 112.6,59.4 115.1,62.9 117.5,66.5 119.8,70.2 122.0,74.0 124.2,77.8 126.2,81.8 128.2,85.8 130.2,89.8 132.0,94.0 133.9,98.1 135.6,102.4 137.3,106.7 139.0,111.0 140.6,115.4 142.2,119.8 143.7,124.3 145.3,128.7 146.8,133.2 148.3,137.7 149.8,142.2 151.4,146.6 152.9,151.1 154.5,155.5 156.1,159.9 157.8,164.2 159.5,168.5 161.2,172.8 163.0,177.0 164.9,181.1"/>
<path d="M86.7,-4.7 90.2,-2.2 93.6,0.4 97.0,3.0 100.4,5.6 103.6,8.4 106.9,11.1 110.0,14.0 113.1,16.9 116.1,19.9 119.1,22.9 121.9,26.1 124.7,29.3 127.4,32.6 130.0,36.0 132.6,39.4 135.1,42.9 137.5,46.5 139.8,50.2 142.0,54.0 144.2,57.8 146.2,61.8 148.2,65.8 150.2,69.8 152.0,74.0 153.9,78.1 155.6,82.4 157.3,86.7 159.0,91.0 160.6,95.4 162.2,99.8 163.7,104.3 165.3,108.7 166.8,113.2 168.3,117.7 169.8,122.2 171.4,126.6 172.9,131.1 174.5,135.5 176.1,139.9 177.8,144.2 179.5,148.5 181.2,152.8 183.0,157.0 184.9,161.1 186.9,165.1 188.9,169.1 190.9,173.1 193.1,176.9 195.3,180.7 197.6,184.4"/>
<path d="M133.1,-3.1 136.1,-0.1 139.1,2.9 141.9,6.1 144.7,9.3 147.4,12.6 150.0,16.0 152.6,19.4 155.1,22.9 157.5,26.5 159.8,30.2 162.0,34.0 164.2,37.8 166.2,41.8 168.2,45.8 170.2,49.8 172.0,54.0 173.9,58.1 175.6,62.4 177.3,66.7 179.0,71.0 180.6,75.4 182.2,79.8 183.7,84.3 185.3,88.7 186.8,93.2 188.3,97.7 189.8,102.2 191.4,106.6 192.9,111.1 194.5,115.5 196.1,119.9 197.8,124.2 199.5,128.5 201.2,132.8 203.0,137.0 204.9,141.1 206.9,145.1 208.9,149.1 210.9,153.1 213.1,156.9 215.3,160.7 217.6,164.4 220.0,168.0 222.5,171.5 225.0,175.0 227.6,178.4 230.3,181.7 233.1,184.9"/>
<path d="M165.4,-5.4 168.0,-2.0 170.6,1.4 173.1,4.9 175.5,8.5 177.8,12.2 180.0,16.0 182.2,19.8 184.2,23.8 186.2,27.8 188.2,31.8 190.0,36.0 191.9,40.1 193.6,44.4 195.3,48.7 197.0,53.0 198.6,57.4 200.2,61.8 201.7,66.3 203.3,70.7 204.8,75.2 206.3,79.7 207.8,84.2 209.4,88.6 210.9,93.1 212.5,97.5 214.1,101.9 215.8,106.2 217.5,110.5 219.2,114.8 221.0,119.0 222.9,123.1 224.9,127.1 226.9,131.1 228.9,135.1 231.1,138.9 233.3,142.7 235.6,146.4 238.0,150.0 240.5,153.5 243.0,157.0 245.6,160.4 248.3,163.7 251.1,166.9 254.0,170.0 256.9,173.1 259.9,176.1 263.0,179.0 266.2,181.8 269.4,184.6"/>
<path d="M199.0,-3.0 201.2,0.8 203.2,4.8 205.2,8.8 207.2,12.8 209.0,17.0 210.9,21.1 212.6,25.4 214.3,29.7 216.0,34.0 217.6,38.4 219.2,42.8 220.7,47.3 222.3,51.7 223.8,56.2 225.3,60.7 226.8,65.2 228.4,69.6 229.9,74.1 231.5,78.5 233.1,82.9 234.8,87.2 236.5,91.5 238.2,95.8 240.0,100.0 241.9,104.1 243.9,108.1 245.9,112.1 247.9,116.1 250.1,119.9 252.3,123.7 254.6,127.4 257.0,131.0 259.5,134.5 262.0,138.0 264.6,141.4 267.3,144.7 270.1,147.9 273.0,151.0"/>
<path d="M228.0,-2.0 229.9,2.1 231.6,6.4 233.3,10.7 235.0,15.0 236.6,19.4 238.2,23.8 239.7,28.3 241.3,32.7 242.8,37.2 244.3,41.7 245.8,46.2 247.4,50.6 248.9,55.1 250.5,59.5 252.1,63.9 253.8,68.2 255.5,72.5 257.2,76.8 259.0,81.0 260.9,85.1 262.9,89.1 264.9,93.1 266.9,97.1 269.1,100.9 271.3,104.7 273.6,108.4"/>
<path d="M248.8,-4.8 250.5,-0.5 252.1,3.9 253.7,8.3 255.2,12.8 256.8,17.2 258.3,21.7 259.8,26.2 261.3,30.7 262.9,35.1 264.4,39.6 266.0,44.0 267.6,48.4 269.3,52.7 271.0,57.0 272.7,61.3 274.5,65.5"/>
<path d="M271.7,-3.7 273.3,0.7 274.8,5.2"/>
</g></g>
<g filter="url(#f3)"><text transform="matrix(0.7009 0 0 1.0740 113.66 335.40)" font-family='"DejaVu Serif Condensed","DejaVu Serif",serif' font-weight="bold" font-stretch="condensed" font-size="100" fill="#fff">1</text></g>
<text transform="matrix(0.2507 0 0 0.2595 186.87 336.00)" font-family='"Liberation Sans",sans-serif' font-weight="bold" font-stretch="normal" font-size="100" fill="#fff">page 5</text>
<g filter="url(#f4)"><text transform="matrix(0.4158 0 0 0.5309 120.25 387.70)" font-family='"DejaVu Serif Condensed","DejaVu Serif",serif' font-weight="bold" font-stretch="condensed" font-size="100" fill="#fff">People</text></g>
<rect x="103.5" y="423.0" width="269.5" height="187.4" fill="#067ecb"/>
<g clip-path="url(#m1)"><g fill="none" stroke="#49a3e2" stroke-width="2" transform="translate(103.5 423.0)">
<path d="M-5.0,189.0 -2.7,192.7"/>
<path d="M-3.3,151.3 -0.5,154.5 2.2,157.8 4.8,161.2 7.3,164.7 9.8,168.2 12.2,171.8 14.5,175.5 16.7,179.3 18.9,183.1 21.0,187.0 23.0,191.0"/>
<path d="M-4.4,116.4 -1.1,119.1 2.0,122.0 5.1,124.9 8.1,127.9 11.1,130.9 13.9,134.1 16.7,137.3 19.4,140.6 22.0,144.0 24.6,147.4 27.1,150.9 29.5,154.5 31.8,158.2 34.0,162.0 36.2,165.8 38.2,169.8 40.2,173.8 42.2,177.8 44.0,182.0 45.9,186.1 47.6,190.4"/>
<path d="M-4.6,86.6 -1.1,89.1 2.4,91.6 5.8,94.2 9.1,96.9 12.4,99.6 15.6,102.4 18.8,105.2 21.8,108.2 24.9,111.1 27.8,114.2 30.7,117.3 33.5,120.5 36.2,123.8 38.8,127.2 41.3,130.7 43.8,134.2 46.2,137.8 48.5,141.5 50.7,145.3 52.9,149.1 55.0,153.0 57.0,157.0 58.9,161.1 60.8,165.2 62.6,169.4 64.4,173.6 66.1,177.9 67.7,182.3 69.3,186.7 70.9,191.1"/>
<path d="M-5.0,57.0 -1.4,59.4 2.2,61.8 5.8,64.2 9.4,66.6 12.9,69.1 16.4,71.6 19.9,74.1 23.3,76.7 26.6,79.4 29.9,82.1 33.1,84.9 36.3,87.7 39.3,90.7 42.4,93.6 45.3,96.7 48.2,99.8 51.0,103.0 53.7,106.3 56.3,109.7 58.8,113.2 61.3,116.7 63.7,120.3 66.0,124.0 68.2,127.8 70.4,131.6 72.5,135.5 74.5,139.5 76.4,143.6 78.3,147.7 80.1,151.9 81.9,156.1 83.6,160.4 85.2,164.8 86.8,169.2 88.4,173.6 90.0,178.0 91.5,182.5 93.0,187.0 94.6,191.4"/>
<path d="M-4.0,32.0 -0.4,34.4 3.2,36.8 6.9,39.1 10.5,41.5 14.1,43.9 17.7,46.3 21.3,48.7 24.9,51.1 28.4,53.6 31.9,56.1 35.4,58.6 38.8,61.2 42.1,63.9 45.4,66.6 48.6,69.4 51.8,72.2 54.8,75.2 57.9,78.1 60.8,81.2 63.7,84.3 66.5,87.5 69.2,90.8 71.8,94.2 74.3,97.7 76.8,101.2 79.2,104.8 81.5,108.5 83.7,112.3 85.9,116.1 88.0,120.0 90.0,124.0 91.9,128.1 93.8,132.2 95.6,136.4 97.4,140.6 99.1,144.9 100.7,149.3 102.3,153.7 103.9,158.1 105.5,162.5 107.0,167.0 108.5,171.5 110.1,175.9 111.6,180.4 113.1,184.9 114.7,189.3"/>
<path d="M-4.3,8.3 -0.8,10.8 2.7,13.3 6.3,15.7 10.0,18.0 13.6,20.4 17.2,22.8 20.9,25.1 24.5,27.5 28.1,29.9 31.7,32.3 35.3,34.7 38.9,37.1 42.4,39.6 45.9,42.1 49.4,44.6 52.8,47.2 56.1,49.9 59.4,52.6 62.6,55.4 65.8,58.2 68.8,61.2 71.9,64.1 74.8,67.2 77.7,70.3 80.5,73.5 83.2,76.8 85.8,80.2 88.3,83.7 90.8,87.2 93.2,90.8 95.5,94.5 97.7,98.3 99.9,102.1 102.0,106.0 104.0,110.0 105.9,114.1 107.8,118.2 109.6,122.4 111.4,126.6 113.1,130.9 114.7,135.3 116.3,139.7 117.9,144.1 119.5,148.5 121.0,153.0 122.5,157.5 124.1,161.9 125.6,166.4 127.1,170.9 128.7,175.3 130.3,179.7 131.9,184.1 133.5,188.5 135.2,192.8"/>
<path d="M37.8,-3.8 41.5,-1.5 45.1,0.9 48.8,3.2 52.4,5.6 56.0,8.0 59.6,10.4 63.2,12.8 66.7,15.3 70.2,17.8 73.6,20.4 77.0,23.0 80.4,25.6 83.6,28.4 86.9,31.1 90.0,34.0 93.1,36.9 96.1,39.9 99.1,42.9 101.9,46.1 104.7,49.3 107.4,52.6 110.0,56.0 112.6,59.4 115.1,62.9 117.5,66.5 119.8,70.2 122.0,74.0 124.2,77.8 126.2,81.8 128.2,85.8 130.2,89.8 132.0,94.0 133.9,98.1 135.6,102.4 137.3,106.7 139.0,111.0 140.6,115.4 142.2,119.8 143.7,124.3 145.3,128.7 146.8,133.2 148.3,137.7 149.8,142.2 151.4,146.6 152.9,151.1 154.5,155.5 156.1,159.9 157.8,164.2 159.5,168.5 161.2,172.8 163.0,177.0 164.9,181.1 166.9,185.1 168.9,189.1 170.9,193.1"/>
<path d="M86.7,-4.7 90.2,-2.2 93.6,0.4 97.0,3.0 100.4,5.6 103.6,8.4 106.9,11.1 110.0,14.0 113.1,16.9 116.1,19.9 119.1,22.9 121.9,26.1 124.7,29.3 127.4,32.6 130.0,36.0 132.6,39.4 135.1,42.9 137.5,46.5 139.8,50.2 142.0,54.0 144.2,57.8 146.2,61.8 148.2,65.8 150.2,69.8 152.0,74.0 153.9,78.1 155.6,82.4 157.3,86.7 159.0,91.0 160.6,95.4 162.2,99.8 163.7,104.3 165.3,108.7 166.8,113.2 168.3,117.7 169.8,122.2 171.4,126.6 172.9,131.1 174.5,135.5 176.1,139.9 177.8,144.2 179.5,148.5 181.2,152.8 183.0,157.0 184.9,161.1 186.9,165.1 188.9,169.1 190.9,173.1 193.1,176.9 195.3,180.7 197.6,184.4 200.0,188.0 202.5,191.5"/>
<path d="M133.1,-3.1 136.1,-0.1 139.1,2.9 141.9,6.1 144.7,9.3 147.4,12.6 150.0,16.0 152.6,19.4 155.1,22.9 157.5,26.5 159.8,30.2 162.0,34.0 164.2,37.8 166.2,41.8 168.2,45.8 170.2,49.8 172.0,54.0 173.9,58.1 175.6,62.4 177.3,66.7 179.0,71.0 180.6,75.4 182.2,79.8 183.7,84.3 185.3,88.7 186.8,93.2 188.3,97.7 189.8,102.2 191.4,106.6 192.9,111.1 194.5,115.5 196.1,119.9 197.8,124.2 199.5,128.5 201.2,132.8 203.0,137.0 204.9,141.1 206.9,145.1 208.9,149.1 210.9,153.1 213.1,156.9 215.3,160.7 217.6,164.4 220.0,168.0 222.5,171.5 225.0,175.0 227.6,178.4 230.3,181.7 233.1,184.9 236.0,188.0 238.9,191.1"/>
<path d="M165.4,-5.4 168.0,-2.0 170.6,1.4 173.1,4.9 175.5,8.5 177.8,12.2 180.0,16.0 182.2,19.8 184.2,23.8 186.2,27.8 188.2,31.8 190.0,36.0 191.9,40.1 193.6,44.4 195.3,48.7 197.0,53.0 198.6,57.4 200.2,61.8 201.7,66.3 203.3,70.7 204.8,75.2 206.3,79.7 207.8,84.2 209.4,88.6 210.9,93.1 212.5,97.5 214.1,101.9 215.8,106.2 217.5,110.5 219.2,114.8 221.0,119.0 222.9,123.1 224.9,127.1 226.9,131.1 228.9,135.1 231.1,138.9 233.3,142.7 235.6,146.4 238.0,150.0 240.5,153.5 243.0,157.0 245.6,160.4 248.3,163.7 251.1,166.9 254.0,170.0 256.9,173.1 259.9,176.1 263.0,179.0 266.2,181.8 269.4,184.6 272.7,187.3"/>
<path d="M199.0,-3.0 201.2,0.8 203.2,4.8 205.2,8.8 207.2,12.8 209.0,17.0 210.9,21.1 212.6,25.4 214.3,29.7 216.0,34.0 217.6,38.4 219.2,42.8 220.7,47.3 222.3,51.7 223.8,56.2 225.3,60.7 226.8,65.2 228.4,69.6 229.9,74.1 231.5,78.5 233.1,82.9 234.8,87.2 236.5,91.5 238.2,95.8 240.0,100.0 241.9,104.1 243.9,108.1 245.9,112.1 247.9,116.1 250.1,119.9 252.3,123.7 254.6,127.4 257.0,131.0 259.5,134.5 262.0,138.0 264.6,141.4 267.3,144.7 270.1,147.9 273.0,151.0"/>
<path d="M228.0,-2.0 229.9,2.1 231.6,6.4 233.3,10.7 235.0,15.0 236.6,19.4 238.2,23.8 239.7,28.3 241.3,32.7 242.8,37.2 244.3,41.7 245.8,46.2 247.4,50.6 248.9,55.1 250.5,59.5 252.1,63.9 253.8,68.2 255.5,72.5 257.2,76.8 259.0,81.0 260.9,85.1 262.9,89.1 264.9,93.1 266.9,97.1 269.1,100.9 271.3,104.7 273.6,108.4"/>
<path d="M248.8,-4.8 250.5,-0.5 252.1,3.9 253.7,8.3 255.2,12.8 256.8,17.2 258.3,21.7 259.8,26.2 261.3,30.7 262.9,35.1 264.4,39.6 266.0,44.0 267.6,48.4 269.3,52.7 271.0,57.0 272.7,61.3 274.5,65.5"/>
<path d="M271.7,-3.7 273.3,0.7 274.8,5.2"/>
</g></g>
<g filter="url(#f3)"><text transform="matrix(0.9300 0 0 1.0902 117.02 528.10)" font-family='"DejaVu Serif Condensed","DejaVu Serif",serif' font-weight="bold" font-stretch="condensed" font-size="100" fill="#fff">2</text></g>
<text transform="matrix(0.2547 0 0 0.2595 186.84 530.00)" font-family='"Liberation Sans",sans-serif' font-weight="bold" font-stretch="normal" font-size="100" fill="#fff">page 23</text>
<g filter="url(#f4)"><text transform="matrix(0.4267 0 0 0.5213 120.21 581.20)" font-family='"DejaVu Serif Condensed","DejaVu Serif",serif' font-weight="bold" font-stretch="condensed" font-size="100" fill="#fff">Places</text></g>
<rect x="103.5" y="615.4" width="269.5" height="188.0" fill="#8a2086"/>
<g clip-path="url(#m2)"><g fill="none" stroke="#b376b3" stroke-width="2" transform="translate(103.5 615.4)">
<path d="M-5.0,189.0 -2.7,192.7"/>
<path d="M-3.3,151.3 -0.5,154.5 2.2,157.8 4.8,161.2 7.3,164.7 9.8,168.2 12.2,171.8 14.5,175.5 16.7,179.3 18.9,183.1 21.0,187.0 23.0,191.0"/>
<path d="M-4.4,116.4 -1.1,119.1 2.0,122.0 5.1,124.9 8.1,127.9 11.1,130.9 13.9,134.1 16.7,137.3 19.4,140.6 22.0,144.0 24.6,147.4 27.1,150.9 29.5,154.5 31.8,158.2 34.0,162.0 36.2,165.8 38.2,169.8 40.2,173.8 42.2,177.8 44.0,182.0 45.9,186.1 47.6,190.4"/>
<path d="M-4.6,86.6 -1.1,89.1 2.4,91.6 5.8,94.2 9.1,96.9 12.4,99.6 15.6,102.4 18.8,105.2 21.8,108.2 24.9,111.1 27.8,114.2 30.7,117.3 33.5,120.5 36.2,123.8 38.8,127.2 41.3,130.7 43.8,134.2 46.2,137.8 48.5,141.5 50.7,145.3 52.9,149.1 55.0,153.0 57.0,157.0 58.9,161.1 60.8,165.2 62.6,169.4 64.4,173.6 66.1,177.9 67.7,182.3 69.3,186.7 70.9,191.1"/>
<path d="M-5.0,57.0 -1.4,59.4 2.2,61.8 5.8,64.2 9.4,66.6 12.9,69.1 16.4,71.6 19.9,74.1 23.3,76.7 26.6,79.4 29.9,82.1 33.1,84.9 36.3,87.7 39.3,90.7 42.4,93.6 45.3,96.7 48.2,99.8 51.0,103.0 53.7,106.3 56.3,109.7 58.8,113.2 61.3,116.7 63.7,120.3 66.0,124.0 68.2,127.8 70.4,131.6 72.5,135.5 74.5,139.5 76.4,143.6 78.3,147.7 80.1,151.9 81.9,156.1 83.6,160.4 85.2,164.8 86.8,169.2 88.4,173.6 90.0,178.0 91.5,182.5 93.0,187.0 94.6,191.4"/>
<path d="M-4.0,32.0 -0.4,34.4 3.2,36.8 6.9,39.1 10.5,41.5 14.1,43.9 17.7,46.3 21.3,48.7 24.9,51.1 28.4,53.6 31.9,56.1 35.4,58.6 38.8,61.2 42.1,63.9 45.4,66.6 48.6,69.4 51.8,72.2 54.8,75.2 57.9,78.1 60.8,81.2 63.7,84.3 66.5,87.5 69.2,90.8 71.8,94.2 74.3,97.7 76.8,101.2 79.2,104.8 81.5,108.5 83.7,112.3 85.9,116.1 88.0,120.0 90.0,124.0 91.9,128.1 93.8,132.2 95.6,136.4 97.4,140.6 99.1,144.9 100.7,149.3 102.3,153.7 103.9,158.1 105.5,162.5 107.0,167.0 108.5,171.5 110.1,175.9 111.6,180.4 113.1,184.9 114.7,189.3 116.3,193.7"/>
<path d="M-4.3,8.3 -0.8,10.8 2.7,13.3 6.3,15.7 10.0,18.0 13.6,20.4 17.2,22.8 20.9,25.1 24.5,27.5 28.1,29.9 31.7,32.3 35.3,34.7 38.9,37.1 42.4,39.6 45.9,42.1 49.4,44.6 52.8,47.2 56.1,49.9 59.4,52.6 62.6,55.4 65.8,58.2 68.8,61.2 71.9,64.1 74.8,67.2 77.7,70.3 80.5,73.5 83.2,76.8 85.8,80.2 88.3,83.7 90.8,87.2 93.2,90.8 95.5,94.5 97.7,98.3 99.9,102.1 102.0,106.0 104.0,110.0 105.9,114.1 107.8,118.2 109.6,122.4 111.4,126.6 113.1,130.9 114.7,135.3 116.3,139.7 117.9,144.1 119.5,148.5 121.0,153.0 122.5,157.5 124.1,161.9 125.6,166.4 127.1,170.9 128.7,175.3 130.3,179.7 131.9,184.1 133.5,188.5 135.2,192.8"/>
<path d="M37.8,-3.8 41.5,-1.5 45.1,0.9 48.8,3.2 52.4,5.6 56.0,8.0 59.6,10.4 63.2,12.8 66.7,15.3 70.2,17.8 73.6,20.4 77.0,23.0 80.4,25.6 83.6,28.4 86.9,31.1 90.0,34.0 93.1,36.9 96.1,39.9 99.1,42.9 101.9,46.1 104.7,49.3 107.4,52.6 110.0,56.0 112.6,59.4 115.1,62.9 117.5,66.5 119.8,70.2 122.0,74.0 124.2,77.8 126.2,81.8 128.2,85.8 130.2,89.8 132.0,94.0 133.9,98.1 135.6,102.4 137.3,106.7 139.0,111.0 140.6,115.4 142.2,119.8 143.7,124.3 145.3,128.7 146.8,133.2 148.3,137.7 149.8,142.2 151.4,146.6 152.9,151.1 154.5,155.5 156.1,159.9 157.8,164.2 159.5,168.5 161.2,172.8 163.0,177.0 164.9,181.1 166.9,185.1 168.9,189.1 170.9,193.1"/>
<path d="M86.7,-4.7 90.2,-2.2 93.6,0.4 97.0,3.0 100.4,5.6 103.6,8.4 106.9,11.1 110.0,14.0 113.1,16.9 116.1,19.9 119.1,22.9 121.9,26.1 124.7,29.3 127.4,32.6 130.0,36.0 132.6,39.4 135.1,42.9 137.5,46.5 139.8,50.2 142.0,54.0 144.2,57.8 146.2,61.8 148.2,65.8 150.2,69.8 152.0,74.0 153.9,78.1 155.6,82.4 157.3,86.7 159.0,91.0 160.6,95.4 162.2,99.8 163.7,104.3 165.3,108.7 166.8,113.2 168.3,117.7 169.8,122.2 171.4,126.6 172.9,131.1 174.5,135.5 176.1,139.9 177.8,144.2 179.5,148.5 181.2,152.8 183.0,157.0 184.9,161.1 186.9,165.1 188.9,169.1 190.9,173.1 193.1,176.9 195.3,180.7 197.6,184.4 200.0,188.0 202.5,191.5"/>
<path d="M133.1,-3.1 136.1,-0.1 139.1,2.9 141.9,6.1 144.7,9.3 147.4,12.6 150.0,16.0 152.6,19.4 155.1,22.9 157.5,26.5 159.8,30.2 162.0,34.0 164.2,37.8 166.2,41.8 168.2,45.8 170.2,49.8 172.0,54.0 173.9,58.1 175.6,62.4 177.3,66.7 179.0,71.0 180.6,75.4 182.2,79.8 183.7,84.3 185.3,88.7 186.8,93.2 188.3,97.7 189.8,102.2 191.4,106.6 192.9,111.1 194.5,115.5 196.1,119.9 197.8,124.2 199.5,128.5 201.2,132.8 203.0,137.0 204.9,141.1 206.9,145.1 208.9,149.1 210.9,153.1 213.1,156.9 215.3,160.7 217.6,164.4 220.0,168.0 222.5,171.5 225.0,175.0 227.6,178.4 230.3,181.7 233.1,184.9 236.0,188.0 238.9,191.1"/>
<path d="M165.4,-5.4 168.0,-2.0 170.6,1.4 173.1,4.9 175.5,8.5 177.8,12.2 180.0,16.0 182.2,19.8 184.2,23.8 186.2,27.8 188.2,31.8 190.0,36.0 191.9,40.1 193.6,44.4 195.3,48.7 197.0,53.0 198.6,57.4 200.2,61.8 201.7,66.3 203.3,70.7 204.8,75.2 206.3,79.7 207.8,84.2 209.4,88.6 210.9,93.1 212.5,97.5 214.1,101.9 215.8,106.2 217.5,110.5 219.2,114.8 221.0,119.0 222.9,123.1 224.9,127.1 226.9,131.1 228.9,135.1 231.1,138.9 233.3,142.7 235.6,146.4 238.0,150.0 240.5,153.5 243.0,157.0 245.6,160.4 248.3,163.7 251.1,166.9 254.0,170.0 256.9,173.1 259.9,176.1 263.0,179.0 266.2,181.8 269.4,184.6 272.7,187.3"/>
<path d="M199.0,-3.0 201.2,0.8 203.2,4.8 205.2,8.8 207.2,12.8 209.0,17.0 210.9,21.1 212.6,25.4 214.3,29.7 216.0,34.0 217.6,38.4 219.2,42.8 220.7,47.3 222.3,51.7 223.8,56.2 225.3,60.7 226.8,65.2 228.4,69.6 229.9,74.1 231.5,78.5 233.1,82.9 234.8,87.2 236.5,91.5 238.2,95.8 240.0,100.0 241.9,104.1 243.9,108.1 245.9,112.1 247.9,116.1 250.1,119.9 252.3,123.7 254.6,127.4 257.0,131.0 259.5,134.5 262.0,138.0 264.6,141.4 267.3,144.7 270.1,147.9 273.0,151.0"/>
<path d="M228.0,-2.0 229.9,2.1 231.6,6.4 233.3,10.7 235.0,15.0 236.6,19.4 238.2,23.8 239.7,28.3 241.3,32.7 242.8,37.2 244.3,41.7 245.8,46.2 247.4,50.6 248.9,55.1 250.5,59.5 252.1,63.9 253.8,68.2 255.5,72.5 257.2,76.8 259.0,81.0 260.9,85.1 262.9,89.1 264.9,93.1 266.9,97.1 269.1,100.9 271.3,104.7 273.6,108.4"/>
<path d="M248.8,-4.8 250.5,-0.5 252.1,3.9 253.7,8.3 255.2,12.8 256.8,17.2 258.3,21.7 259.8,26.2 261.3,30.7 262.9,35.1 264.4,39.6 266.0,44.0 267.6,48.4 269.3,52.7 271.0,57.0 272.7,61.3 274.5,65.5"/>
<path d="M271.7,-3.7 273.3,0.7 274.8,5.2"/>
</g></g>
<g filter="url(#f3)"><text transform="matrix(0.8639 0 0 1.0831 117.14 722.98)" font-family='"DejaVu Serif Condensed","DejaVu Serif",serif' font-weight="bold" font-stretch="condensed" font-size="100" fill="#fff">3</text></g>
<text transform="matrix(0.2464 0 0 0.2595 187.90 723.50)" font-family='"Liberation Sans",sans-serif' font-weight="bold" font-stretch="normal" font-size="100" fill="#fff">page 41</text>
<g filter="url(#f4)"><text transform="matrix(0.4180 0 0 0.4938 119.53 774.70)" font-family='"DejaVu Serif Condensed","DejaVu Serif",serif' font-weight="bold" font-stretch="condensed" font-size="100" fill="#fff">Success</text></g>
<rect x="103.5" y="808.5" width="269.5" height="202.5" fill="#5fa040"/>
<g clip-path="url(#m3)"><g fill="none" stroke="#95c57e" stroke-width="2" transform="translate(103.5 808.5)">
<path d="M-5.0,189.0 -2.7,192.7 -0.5,196.5 1.7,200.3 3.7,204.3 5.7,208.3"/>
<path d="M-3.3,151.3 -0.5,154.5 2.2,157.8 4.8,161.2 7.3,164.7 9.8,168.2 12.2,171.8 14.5,175.5 16.7,179.3 18.9,183.1 21.0,187.0 23.0,191.0 24.9,195.1 26.8,199.2 28.6,203.4 30.4,207.6"/>
<path d="M-4.4,116.4 -1.1,119.1 2.0,122.0 5.1,124.9 8.1,127.9 11.1,130.9 13.9,134.1 16.7,137.3 19.4,140.6 22.0,144.0 24.6,147.4 27.1,150.9 29.5,154.5 31.8,158.2 34.0,162.0 36.2,165.8 38.2,169.8 40.2,173.8 42.2,177.8 44.0,182.0 45.9,186.1 47.6,190.4 49.3,194.7 51.0,199.0 52.6,203.4 54.2,207.8"/>
<path d="M-4.6,86.6 -1.1,89.1 2.4,91.6 5.8,94.2 9.1,96.9 12.4,99.6 15.6,102.4 18.8,105.2 21.8,108.2 24.9,111.1 27.8,114.2 30.7,117.3 33.5,120.5 36.2,123.8 38.8,127.2 41.3,130.7 43.8,134.2 46.2,137.8 48.5,141.5 50.7,145.3 52.9,149.1 55.0,153.0 57.0,157.0 58.9,161.1 60.8,165.2 62.6,169.4 64.4,173.6 66.1,177.9 67.7,182.3 69.3,186.7 70.9,191.1 72.5,195.5 74.0,200.0 75.5,204.5"/>
<path d="M-5.0,57.0 -1.4,59.4 2.2,61.8 5.8,64.2 9.4,66.6 12.9,69.1 16.4,71.6 19.9,74.1 23.3,76.7 26.6,79.4 29.9,82.1 33.1,84.9 36.3,87.7 39.3,90.7 42.4,93.6 45.3,96.7 48.2,99.8 51.0,103.0 53.7,106.3 56.3,109.7 58.8,113.2 61.3,116.7 63.7,120.3 66.0,124.0 68.2,127.8 70.4,131.6 72.5,135.5 74.5,139.5 76.4,143.6 78.3,147.7 80.1,151.9 81.9,156.1 83.6,160.4 85.2,164.8 86.8,169.2 88.4,173.6 90.0,178.0 91.5,182.5 93.0,187.0 94.6,191.4 96.1,195.9 97.6,200.4 99.2,204.8"/>
<path d="M-4.0,32.0 -0.4,34.4 3.2,36.8 6.9,39.1 10.5,41.5 14.1,43.9 17.7,46.3 21.3,48.7 24.9,51.1 28.4,53.6 31.9,56.1 35.4,58.6 38.8,61.2 42.1,63.9 45.4,66.6 48.6,69.4 51.8,72.2 54.8,75.2 57.9,78.1 60.8,81.2 63.7,84.3 66.5,87.5 69.2,90.8 71.8,94.2 74.3,97.7 76.8,101.2 79.2,104.8 81.5,108.5 83.7,112.3 85.9,116.1 88.0,120.0 90.0,124.0 91.9,128.1 93.8,132.2 95.6,136.4 97.4,140.6 99.1,144.9 100.7,149.3 102.3,153.7 103.9,158.1 105.5,162.5 107.0,167.0 108.5,171.5 110.1,175.9 111.6,180.4 113.1,184.9 114.7,189.3 116.3,193.7 117.9,198.1 119.5,202.5 121.2,206.8"/>
<path d="M-4.3,8.3 -0.8,10.8 2.7,13.3 6.3,15.7 10.0,18.0 13.6,20.4 17.2,22.8 20.9,25.1 24.5,27.5 28.1,29.9 31.7,32.3 35.3,34.7 38.9,37.1 42.4,39.6 45.9,42.1 49.4,44.6 52.8,47.2 56.1,49.9 59.4,52.6 62.6,55.4 65.8,58.2 68.8,61.2 71.9,64.1 74.8,67.2 77.7,70.3 80.5,73.5 83.2,76.8 85.8,80.2 88.3,83.7 90.8,87.2 93.2,90.8 95.5,94.5 97.7,98.3 99.9,102.1 102.0,106.0 104.0,110.0 105.9,114.1 107.8,118.2 109.6,122.4 111.4,126.6 113.1,130.9 114.7,135.3 116.3,139.7 117.9,144.1 119.5,148.5 121.0,153.0 122.5,157.5 124.1,161.9 125.6,166.4 127.1,170.9 128.7,175.3 130.3,179.7 131.9,184.1 133.5,188.5 135.2,192.8 137.0,197.0 138.8,201.2 140.7,205.3"/>
<path d="M37.8,-3.8 41.5,-1.5 45.1,0.9 48.8,3.2 52.4,5.6 56.0,8.0 59.6,10.4 63.2,12.8 66.7,15.3 70.2,17.8 73.6,20.4 77.0,23.0 80.4,25.6 83.6,28.4 86.9,31.1 90.0,34.0 93.1,36.9 96.1,39.9 99.1,42.9 101.9,46.1 104.7,49.3 107.4,52.6 110.0,56.0 112.6,59.4 115.1,62.9 117.5,66.5 119.8,70.2 122.0,74.0 124.2,77.8 126.2,81.8 128.2,85.8 130.2,89.8 132.0,94.0 133.9,98.1 135.6,102.4 137.3,106.7 139.0,111.0 140.6,115.4 142.2,119.8 143.7,124.3 145.3,128.7 146.8,133.2 148.3,137.7 149.8,142.2 151.4,146.6 152.9,151.1 154.5,155.5 156.1,159.9 157.8,164.2 159.5,168.5 161.2,172.8 163.0,177.0 164.9,181.1 166.9,185.1 168.9,189.1 170.9,193.1 173.1,196.9 175.3,200.7 177.6,204.4 180.0,208.0"/>
<path d="M86.7,-4.7 90.2,-2.2 93.6,0.4 97.0,3.0 100.4,5.6 103.6,8.4 106.9,11.1 110.0,14.0 113.1,16.9 116.1,19.9 119.1,22.9 121.9,26.1 124.7,29.3 127.4,32.6 130.0,36.0 132.6,39.4 135.1,42.9 137.5,46.5 139.8,50.2 142.0,54.0 144.2,57.8 146.2,61.8 148.2,65.8 150.2,69.8 152.0,74.0 153.9,78.1 155.6,82.4 157.3,86.7 159.0,91.0 160.6,95.4 162.2,99.8 163.7,104.3 165.3,108.7 166.8,113.2 168.3,117.7 169.8,122.2 171.4,126.6 172.9,131.1 174.5,135.5 176.1,139.9 177.8,144.2 179.5,148.5 181.2,152.8 183.0,157.0 184.9,161.1 186.9,165.1 188.9,169.1 190.9,173.1 193.1,176.9 195.3,180.7 197.6,184.4 200.0,188.0 202.5,191.5 205.0,195.0 207.6,198.4 210.3,201.7 213.1,204.9 216.0,208.0"/>
<path d="M133.1,-3.1 136.1,-0.1 139.1,2.9 141.9,6.1 144.7,9.3 147.4,12.6 150.0,16.0 152.6,19.4 155.1,22.9 157.5,26.5 159.8,30.2 162.0,34.0 164.2,37.8 166.2,41.8 168.2,45.8 170.2,49.8 172.0,54.0 173.9,58.1 175.6,62.4 177.3,66.7 179.0,71.0 180.6,75.4 182.2,79.8 183.7,84.3 185.3,88.7 186.8,93.2 188.3,97.7 189.8,102.2 191.4,106.6 192.9,111.1 194.5,115.5 196.1,119.9 197.8,124.2 199.5,128.5 201.2,132.8 203.0,137.0 204.9,141.1 206.9,145.1 208.9,149.1 210.9,153.1 213.1,156.9 215.3,160.7 217.6,164.4 220.0,168.0 222.5,171.5 225.0,175.0 227.6,178.4 230.3,181.7 233.1,184.9 236.0,188.0 238.9,191.1 241.9,194.1 245.0,197.0 248.2,199.8 251.4,202.6 254.7,205.3 258.0,208.0"/>
<path d="M165.4,-5.4 168.0,-2.0 170.6,1.4 173.1,4.9 175.5,8.5 177.8,12.2 180.0,16.0 182.2,19.8 184.2,23.8 186.2,27.8 188.2,31.8 190.0,36.0 191.9,40.1 193.6,44.4 195.3,48.7 197.0,53.0 198.6,57.4 200.2,61.8 201.7,66.3 203.3,70.7 204.8,75.2 206.3,79.7 207.8,84.2 209.4,88.6 210.9,93.1 212.5,97.5 214.1,101.9 215.8,106.2 217.5,110.5 219.2,114.8 221.0,119.0 222.9,123.1 224.9,127.1 226.9,131.1 228.9,135.1 231.1,138.9 233.3,142.7 235.6,146.4 238.0,150.0 240.5,153.5 243.0,157.0 245.6,160.4 248.3,163.7 251.1,166.9 254.0,170.0 256.9,173.1 259.9,176.1 263.0,179.0 266.2,181.8 269.4,184.6 272.7,187.3"/>
<path d="M199.0,-3.0 201.2,0.8 203.2,4.8 205.2,8.8 207.2,12.8 209.0,17.0 210.9,21.1 212.6,25.4 214.3,29.7 216.0,34.0 217.6,38.4 219.2,42.8 220.7,47.3 222.3,51.7 223.8,56.2 225.3,60.7 226.8,65.2 228.4,69.6 229.9,74.1 231.5,78.5 233.1,82.9 234.8,87.2 236.5,91.5 238.2,95.8 240.0,100.0 241.9,104.1 243.9,108.1 245.9,112.1 247.9,116.1 250.1,119.9 252.3,123.7 254.6,127.4 257.0,131.0 259.5,134.5 262.0,138.0 264.6,141.4 267.3,144.7 270.1,147.9 273.0,151.0"/>
<path d="M228.0,-2.0 229.9,2.1 231.6,6.4 233.3,10.7 235.0,15.0 236.6,19.4 238.2,23.8 239.7,28.3 241.3,32.7 242.8,37.2 244.3,41.7 245.8,46.2 247.4,50.6 248.9,55.1 250.5,59.5 252.1,63.9 253.8,68.2 255.5,72.5 257.2,76.8 259.0,81.0 260.9,85.1 262.9,89.1 264.9,93.1 266.9,97.1 269.1,100.9 271.3,104.7 273.6,108.4"/>
<path d="M248.8,-4.8 250.5,-0.5 252.1,3.9 253.7,8.3 255.2,12.8 256.8,17.2 258.3,21.7 259.8,26.2 261.3,30.7 262.9,35.1 264.4,39.6 266.0,44.0 267.6,48.4 269.3,52.7 271.0,57.0 272.7,61.3 274.5,65.5"/>
<path d="M271.7,-3.7 273.3,0.7 274.8,5.2"/>
</g></g>
<g filter="url(#f3)"><text transform="matrix(0.8318 0 0 0.9152 120.22 890.60)" font-family='"DejaVu Serif Condensed","DejaVu Serif",serif' font-weight="bold" font-stretch="condensed" font-size="100" fill="#fff">4</text></g>
<text transform="matrix(0.2432 0 0 0.2595 187.92 891.00)" font-family='"Liberation Sans",sans-serif' font-weight="bold" font-stretch="normal" font-size="100" fill="#fff">page 59</text>
<g filter="url(#f4)"><text transform="matrix(0.4088 0 0 0.4856 120.19 947.40)" font-family='"DejaVu Serif Condensed","DejaVu Serif",serif' font-weight="bold" font-stretch="condensed" font-size="100" fill="#fff">Science &amp;</text></g>
<g filter="url(#f4)"><text transform="matrix(0.4257 0 0 0.4897 122.17 994.70)" font-family='"DejaVu Serif Condensed","DejaVu Serif",serif' font-weight="bold" font-stretch="condensed" font-size="100" fill="#fff">Technology</text></g>
<rect x="103.5" y="1015.8" width="269.5" height="179.4" fill="#cd2430"/>
<g clip-path="url(#m4)"><g fill="none" stroke="#e58262" stroke-width="2" transform="translate(103.5 1015.8)">
<path d="M-3.3,151.3 -0.5,154.5 2.2,157.8 4.8,161.2 7.3,164.7 9.8,168.2 12.2,171.8 14.5,175.5 16.7,179.3 18.9,183.1"/>
<path d="M-4.4,116.4 -1.1,119.1 2.0,122.0 5.1,124.9 8.1,127.9 11.1,130.9 13.9,134.1 16.7,137.3 19.4,140.6 22.0,144.0 24.6,147.4 27.1,150.9 29.5,154.5 31.8,158.2 34.0,162.0 36.2,165.8 38.2,169.8 40.2,173.8 42.2,177.8 44.0,182.0"/>
<path d="M-4.6,86.6 -1.1,89.1 2.4,91.6 5.8,94.2 9.1,96.9 12.4,99.6 15.6,102.4 18.8,105.2 21.8,108.2 24.9,111.1 27.8,114.2 30.7,117.3 33.5,120.5 36.2,123.8 38.8,127.2 41.3,130.7 43.8,134.2 46.2,137.8 48.5,141.5 50.7,145.3 52.9,149.1 55.0,153.0 57.0,157.0 58.9,161.1 60.8,165.2 62.6,169.4 64.4,173.6 66.1,177.9 67.7,182.3"/>
<path d="M-5.0,57.0 -1.4,59.4 2.2,61.8 5.8,64.2 9.4,66.6 12.9,69.1 16.4,71.6 19.9,74.1 23.3,76.7 26.6,79.4 29.9,82.1 33.1,84.9 36.3,87.7 39.3,90.7 42.4,93.6 45.3,96.7 48.2,99.8 51.0,103.0 53.7,106.3 56.3,109.7 58.8,113.2 61.3,116.7 63.7,120.3 66.0,124.0 68.2,127.8 70.4,131.6 72.5,135.5 74.5,139.5 76.4,143.6 78.3,147.7 80.1,151.9 81.9,156.1 83.6,160.4 85.2,164.8 86.8,169.2 88.4,173.6 90.0,178.0 91.5,182.5"/>
<path d="M-4.0,32.0 -0.4,34.4 3.2,36.8 6.9,39.1 10.5,41.5 14.1,43.9 17.7,46.3 21.3,48.7 24.9,51.1 28.4,53.6 31.9,56.1 35.4,58.6 38.8,61.2 42.1,63.9 45.4,66.6 48.6,69.4 51.8,72.2 54.8,75.2 57.9,78.1 60.8,81.2 63.7,84.3 66.5,87.5 69.2,90.8 71.8,94.2 74.3,97.7 76.8,101.2 79.2,104.8 81.5,108.5 83.7,112.3 85.9,116.1 88.0,120.0 90.0,124.0 91.9,128.1 93.8,132.2 95.6,136.4 97.4,140.6 99.1,144.9 100.7,149.3 102.3,153.7 103.9,158.1 105.5,162.5 107.0,167.0 108.5,171.5 110.1,175.9 111.6,180.4 113.1,184.9"/>
<path d="M-4.3,8.3 -0.8,10.8 2.7,13.3 6.3,15.7 10.0,18.0 13.6,20.4 17.2,22.8 20.9,25.1 24.5,27.5 28.1,29.9 31.7,32.3 35.3,34.7 38.9,37.1 42.4,39.6 45.9,42.1 49.4,44.6 52.8,47.2 56.1,49.9 59.4,52.6 62.6,55.4 65.8,58.2 68.8,61.2 71.9,64.1 74.8,67.2 77.7,70.3 80.5,73.5 83.2,76.8 85.8,80.2 88.3,83.7 90.8,87.2 93.2,90.8 95.5,94.5 97.7,98.3 99.9,102.1 102.0,106.0 104.0,110.0 105.9,114.1 107.8,118.2 109.6,122.4 111.4,126.6 113.1,130.9 114.7,135.3 116.3,139.7 117.9,144.1 119.5,148.5 121.0,153.0 122.5,157.5 124.1,161.9 125.6,166.4 127.1,170.9 128.7,175.3 130.3,179.7 131.9,184.1"/>
<path d="M37.8,-3.8 41.5,-1.5 45.1,0.9 48.8,3.2 52.4,5.6 56.0,8.0 59.6,10.4 63.2,12.8 66.7,15.3 70.2,17.8 73.6,20.4 77.0,23.0 80.4,25.6 83.6,28.4 86.9,31.1 90.0,34.0 93.1,36.9 96.1,39.9 99.1,42.9 101.9,46.1 104.7,49.3 107.4,52.6 110.0,56.0 112.6,59.4 115.1,62.9 117.5,66.5 119.8,70.2 122.0,74.0 124.2,77.8 126.2,81.8 128.2,85.8 130.2,89.8 132.0,94.0 133.9,98.1 135.6,102.4 137.3,106.7 139.0,111.0 140.6,115.4 142.2,119.8 143.7,124.3 145.3,128.7 146.8,133.2 148.3,137.7 149.8,142.2 151.4,146.6 152.9,151.1 154.5,155.5 156.1,159.9 157.8,164.2 159.5,168.5 161.2,172.8 163.0,177.0 164.9,181.1 166.9,185.1"/>
<path d="M86.7,-4.7 90.2,-2.2 93.6,0.4 97.0,3.0 100.4,5.6 103.6,8.4 106.9,11.1 110.0,14.0 113.1,16.9 116.1,19.9 119.1,22.9 121.9,26.1 124.7,29.3 127.4,32.6 130.0,36.0 132.6,39.4 135.1,42.9 137.5,46.5 139.8,50.2 142.0,54.0 144.2,57.8 146.2,61.8 148.2,65.8 150.2,69.8 152.0,74.0 153.9,78.1 155.6,82.4 157.3,86.7 159.0,91.0 160.6,95.4 162.2,99.8 163.7,104.3 165.3,108.7 166.8,113.2 168.3,117.7 169.8,122.2 171.4,126.6 172.9,131.1 174.5,135.5 176.1,139.9 177.8,144.2 179.5,148.5 181.2,152.8 183.0,157.0 184.9,161.1 186.9,165.1 188.9,169.1 190.9,173.1 193.1,176.9 195.3,180.7 197.6,184.4"/>
<path d="M133.1,-3.1 136.1,-0.1 139.1,2.9 141.9,6.1 144.7,9.3 147.4,12.6 150.0,16.0 152.6,19.4 155.1,22.9 157.5,26.5 159.8,30.2 162.0,34.0 164.2,37.8 166.2,41.8 168.2,45.8 170.2,49.8 172.0,54.0 173.9,58.1 175.6,62.4 177.3,66.7 179.0,71.0 180.6,75.4 182.2,79.8 183.7,84.3 185.3,88.7 186.8,93.2 188.3,97.7 189.8,102.2 191.4,106.6 192.9,111.1 194.5,115.5 196.1,119.9 197.8,124.2 199.5,128.5 201.2,132.8 203.0,137.0 204.9,141.1 206.9,145.1 208.9,149.1 210.9,153.1 213.1,156.9 215.3,160.7 217.6,164.4 220.0,168.0 222.5,171.5 225.0,175.0 227.6,178.4 230.3,181.7 233.1,184.9"/>
<path d="M165.4,-5.4 168.0,-2.0 170.6,1.4 173.1,4.9 175.5,8.5 177.8,12.2 180.0,16.0 182.2,19.8 184.2,23.8 186.2,27.8 188.2,31.8 190.0,36.0 191.9,40.1 193.6,44.4 195.3,48.7 197.0,53.0 198.6,57.4 200.2,61.8 201.7,66.3 203.3,70.7 204.8,75.2 206.3,79.7 207.8,84.2 209.4,88.6 210.9,93.1 212.5,97.5 214.1,101.9 215.8,106.2 217.5,110.5 219.2,114.8 221.0,119.0 222.9,123.1 224.9,127.1 226.9,131.1 228.9,135.1 231.1,138.9 233.3,142.7 235.6,146.4 238.0,150.0 240.5,153.5 243.0,157.0 245.6,160.4 248.3,163.7 251.1,166.9 254.0,170.0 256.9,173.1 259.9,176.1 263.0,179.0 266.2,181.8 269.4,184.6"/>
<path d="M199.0,-3.0 201.2,0.8 203.2,4.8 205.2,8.8 207.2,12.8 209.0,17.0 210.9,21.1 212.6,25.4 214.3,29.7 216.0,34.0 217.6,38.4 219.2,42.8 220.7,47.3 222.3,51.7 223.8,56.2 225.3,60.7 226.8,65.2 228.4,69.6 229.9,74.1 231.5,78.5 233.1,82.9 234.8,87.2 236.5,91.5 238.2,95.8 240.0,100.0 241.9,104.1 243.9,108.1 245.9,112.1 247.9,116.1 250.1,119.9 252.3,123.7 254.6,127.4 257.0,131.0 259.5,134.5 262.0,138.0 264.6,141.4 267.3,144.7 270.1,147.9 273.0,151.0"/>
<path d="M228.0,-2.0 229.9,2.1 231.6,6.4 233.3,10.7 235.0,15.0 236.6,19.4 238.2,23.8 239.7,28.3 241.3,32.7 242.8,37.2 244.3,41.7 245.8,46.2 247.4,50.6 248.9,55.1 250.5,59.5 252.1,63.9 253.8,68.2 255.5,72.5 257.2,76.8 259.0,81.0 260.9,85.1 262.9,89.1 264.9,93.1 266.9,97.1 269.1,100.9 271.3,104.7 273.6,108.4"/>
<path d="M248.8,-4.8 250.5,-0.5 252.1,3.9 253.7,8.3 255.2,12.8 256.8,17.2 258.3,21.7 259.8,26.2 261.3,30.7 262.9,35.1 264.4,39.6 266.0,44.0 267.6,48.4 269.3,52.7 271.0,57.0 272.7,61.3 274.5,65.5"/>
<path d="M271.7,-3.7 273.3,0.7 274.8,5.2"/>
</g></g>
<g filter="url(#f3)"><text transform="matrix(0.8992 0 0 1.2056 115.64 1117.09)" font-family='"DejaVu Serif Condensed","DejaVu Serif",serif' font-weight="bold" font-stretch="condensed" font-size="100" fill="#fff">5</text></g>
<text transform="matrix(0.2497 0 0 0.2595 188.08 1117.70)" font-family='"Liberation Sans",sans-serif' font-weight="bold" font-stretch="normal" font-size="100" fill="#fff">page 77</text>
<g filter="url(#f4)"><text transform="matrix(0.4180 0 0 0.5117 120.24 1172.00)" font-family='"DejaVu Serif Condensed","DejaVu Serif",serif' font-weight="bold" font-stretch="condensed" font-size="100" fill="#fff">Leisure</text></g>
<rect x="103.5" y="1200.3" width="269.5" height="187.1" fill="#6d3b2c"/>
<g clip-path="url(#m5)"><g fill="none" stroke="#a87c5e" stroke-width="2" transform="translate(103.5 1200.3)">
<path d="M-5.0,189.0 -2.7,192.7"/>
<path d="M-3.3,151.3 -0.5,154.5 2.2,157.8 4.8,161.2 7.3,164.7 9.8,168.2 12.2,171.8 14.5,175.5 16.7,179.3 18.9,183.1 21.0,187.0 23.0,191.0"/>
<path d="M-4.4,116.4 -1.1,119.1 2.0,122.0 5.1,124.9 8.1,127.9 11.1,130.9 13.9,134.1 16.7,137.3 19.4,140.6 22.0,144.0 24.6,147.4 27.1,150.9 29.5,154.5 31.8,158.2 34.0,162.0 36.2,165.8 38.2,169.8 40.2,173.8 42.2,177.8 44.0,182.0 45.9,186.1 47.6,190.4"/>
<path d="M-4.6,86.6 -1.1,89.1 2.4,91.6 5.8,94.2 9.1,96.9 12.4,99.6 15.6,102.4 18.8,105.2 21.8,108.2 24.9,111.1 27.8,114.2 30.7,117.3 33.5,120.5 36.2,123.8 38.8,127.2 41.3,130.7 43.8,134.2 46.2,137.8 48.5,141.5 50.7,145.3 52.9,149.1 55.0,153.0 57.0,157.0 58.9,161.1 60.8,165.2 62.6,169.4 64.4,173.6 66.1,177.9 67.7,182.3 69.3,186.7 70.9,191.1"/>
<path d="M-5.0,57.0 -1.4,59.4 2.2,61.8 5.8,64.2 9.4,66.6 12.9,69.1 16.4,71.6 19.9,74.1 23.3,76.7 26.6,79.4 29.9,82.1 33.1,84.9 36.3,87.7 39.3,90.7 42.4,93.6 45.3,96.7 48.2,99.8 51.0,103.0 53.7,106.3 56.3,109.7 58.8,113.2 61.3,116.7 63.7,120.3 66.0,124.0 68.2,127.8 70.4,131.6 72.5,135.5 74.5,139.5 76.4,143.6 78.3,147.7 80.1,151.9 81.9,156.1 83.6,160.4 85.2,164.8 86.8,169.2 88.4,173.6 90.0,178.0 91.5,182.5 93.0,187.0 94.6,191.4"/>
<path d="M-4.0,32.0 -0.4,34.4 3.2,36.8 6.9,39.1 10.5,41.5 14.1,43.9 17.7,46.3 21.3,48.7 24.9,51.1 28.4,53.6 31.9,56.1 35.4,58.6 38.8,61.2 42.1,63.9 45.4,66.6 48.6,69.4 51.8,72.2 54.8,75.2 57.9,78.1 60.8,81.2 63.7,84.3 66.5,87.5 69.2,90.8 71.8,94.2 74.3,97.7 76.8,101.2 79.2,104.8 81.5,108.5 83.7,112.3 85.9,116.1 88.0,120.0 90.0,124.0 91.9,128.1 93.8,132.2 95.6,136.4 97.4,140.6 99.1,144.9 100.7,149.3 102.3,153.7 103.9,158.1 105.5,162.5 107.0,167.0 108.5,171.5 110.1,175.9 111.6,180.4 113.1,184.9 114.7,189.3"/>
<path d="M-4.3,8.3 -0.8,10.8 2.7,13.3 6.3,15.7 10.0,18.0 13.6,20.4 17.2,22.8 20.9,25.1 24.5,27.5 28.1,29.9 31.7,32.3 35.3,34.7 38.9,37.1 42.4,39.6 45.9,42.1 49.4,44.6 52.8,47.2 56.1,49.9 59.4,52.6 62.6,55.4 65.8,58.2 68.8,61.2 71.9,64.1 74.8,67.2 77.7,70.3 80.5,73.5 83.2,76.8 85.8,80.2 88.3,83.7 90.8,87.2 93.2,90.8 95.5,94.5 97.7,98.3 99.9,102.1 102.0,106.0 104.0,110.0 105.9,114.1 107.8,118.2 109.6,122.4 111.4,126.6 113.1,130.9 114.7,135.3 116.3,139.7 117.9,144.1 119.5,148.5 121.0,153.0 122.5,157.5 124.1,161.9 125.6,166.4 127.1,170.9 128.7,175.3 130.3,179.7 131.9,184.1 133.5,188.5 135.2,192.8"/>
<path d="M37.8,-3.8 41.5,-1.5 45.1,0.9 48.8,3.2 52.4,5.6 56.0,8.0 59.6,10.4 63.2,12.8 66.7,15.3 70.2,17.8 73.6,20.4 77.0,23.0 80.4,25.6 83.6,28.4 86.9,31.1 90.0,34.0 93.1,36.9 96.1,39.9 99.1,42.9 101.9,46.1 104.7,49.3 107.4,52.6 110.0,56.0 112.6,59.4 115.1,62.9 117.5,66.5 119.8,70.2 122.0,74.0 124.2,77.8 126.2,81.8 128.2,85.8 130.2,89.8 132.0,94.0 133.9,98.1 135.6,102.4 137.3,106.7 139.0,111.0 140.6,115.4 142.2,119.8 143.7,124.3 145.3,128.7 146.8,133.2 148.3,137.7 149.8,142.2 151.4,146.6 152.9,151.1 154.5,155.5 156.1,159.9 157.8,164.2 159.5,168.5 161.2,172.8 163.0,177.0 164.9,181.1 166.9,185.1 168.9,189.1 170.9,193.1"/>
<path d="M86.7,-4.7 90.2,-2.2 93.6,0.4 97.0,3.0 100.4,5.6 103.6,8.4 106.9,11.1 110.0,14.0 113.1,16.9 116.1,19.9 119.1,22.9 121.9,26.1 124.7,29.3 127.4,32.6 130.0,36.0 132.6,39.4 135.1,42.9 137.5,46.5 139.8,50.2 142.0,54.0 144.2,57.8 146.2,61.8 148.2,65.8 150.2,69.8 152.0,74.0 153.9,78.1 155.6,82.4 157.3,86.7 159.0,91.0 160.6,95.4 162.2,99.8 163.7,104.3 165.3,108.7 166.8,113.2 168.3,117.7 169.8,122.2 171.4,126.6 172.9,131.1 174.5,135.5 176.1,139.9 177.8,144.2 179.5,148.5 181.2,152.8 183.0,157.0 184.9,161.1 186.9,165.1 188.9,169.1 190.9,173.1 193.1,176.9 195.3,180.7 197.6,184.4 200.0,188.0 202.5,191.5"/>
<path d="M133.1,-3.1 136.1,-0.1 139.1,2.9 141.9,6.1 144.7,9.3 147.4,12.6 150.0,16.0 152.6,19.4 155.1,22.9 157.5,26.5 159.8,30.2 162.0,34.0 164.2,37.8 166.2,41.8 168.2,45.8 170.2,49.8 172.0,54.0 173.9,58.1 175.6,62.4 177.3,66.7 179.0,71.0 180.6,75.4 182.2,79.8 183.7,84.3 185.3,88.7 186.8,93.2 188.3,97.7 189.8,102.2 191.4,106.6 192.9,111.1 194.5,115.5 196.1,119.9 197.8,124.2 199.5,128.5 201.2,132.8 203.0,137.0 204.9,141.1 206.9,145.1 208.9,149.1 210.9,153.1 213.1,156.9 215.3,160.7 217.6,164.4 220.0,168.0 222.5,171.5 225.0,175.0 227.6,178.4 230.3,181.7 233.1,184.9 236.0,188.0 238.9,191.1"/>
<path d="M165.4,-5.4 168.0,-2.0 170.6,1.4 173.1,4.9 175.5,8.5 177.8,12.2 180.0,16.0 182.2,19.8 184.2,23.8 186.2,27.8 188.2,31.8 190.0,36.0 191.9,40.1 193.6,44.4 195.3,48.7 197.0,53.0 198.6,57.4 200.2,61.8 201.7,66.3 203.3,70.7 204.8,75.2 206.3,79.7 207.8,84.2 209.4,88.6 210.9,93.1 212.5,97.5 214.1,101.9 215.8,106.2 217.5,110.5 219.2,114.8 221.0,119.0 222.9,123.1 224.9,127.1 226.9,131.1 228.9,135.1 231.1,138.9 233.3,142.7 235.6,146.4 238.0,150.0 240.5,153.5 243.0,157.0 245.6,160.4 248.3,163.7 251.1,166.9 254.0,170.0 256.9,173.1 259.9,176.1 263.0,179.0 266.2,181.8 269.4,184.6 272.7,187.3"/>
<path d="M199.0,-3.0 201.2,0.8 203.2,4.8 205.2,8.8 207.2,12.8 209.0,17.0 210.9,21.1 212.6,25.4 214.3,29.7 216.0,34.0 217.6,38.4 219.2,42.8 220.7,47.3 222.3,51.7 223.8,56.2 225.3,60.7 226.8,65.2 228.4,69.6 229.9,74.1 231.5,78.5 233.1,82.9 234.8,87.2 236.5,91.5 238.2,95.8 240.0,100.0 241.9,104.1 243.9,108.1 245.9,112.1 247.9,116.1 250.1,119.9 252.3,123.7 254.6,127.4 257.0,131.0 259.5,134.5 262.0,138.0 264.6,141.4 267.3,144.7 270.1,147.9 273.0,151.0"/>
<path d="M228.0,-2.0 229.9,2.1 231.6,6.4 233.3,10.7 235.0,15.0 236.6,19.4 238.2,23.8 239.7,28.3 241.3,32.7 242.8,37.2 244.3,41.7 245.8,46.2 247.4,50.6 248.9,55.1 250.5,59.5 252.1,63.9 253.8,68.2 255.5,72.5 257.2,76.8 259.0,81.0 260.9,85.1 262.9,89.1 264.9,93.1 266.9,97.1 269.1,100.9 271.3,104.7 273.6,108.4"/>
<path d="M248.8,-4.8 250.5,-0.5 252.1,3.9 253.7,8.3 255.2,12.8 256.8,17.2 258.3,21.7 259.8,26.2 261.3,30.7 262.9,35.1 264.4,39.6 266.0,44.0 267.6,48.4 269.3,52.7 271.0,57.0 272.7,61.3 274.5,65.5"/>
<path d="M271.7,-3.7 273.3,0.7 274.8,5.2"/>
</g></g>
<g filter="url(#f3)"><text transform="matrix(0.8642 0 0 1.0752 118.26 1308.39)" font-family='"DejaVu Serif Condensed","DejaVu Serif",serif' font-weight="bold" font-stretch="condensed" font-size="100" fill="#fff">6</text></g>
<text transform="matrix(0.2503 0 0 0.2595 188.07 1309.00)" font-family='"Liberation Sans",sans-serif' font-weight="bold" font-stretch="normal" font-size="100" fill="#fff">page 95</text>
<g filter="url(#f4)"><text transform="matrix(0.4155 0 0 0.5062 120.38 1358.90)" font-family='"DejaVu Serif Condensed","DejaVu Serif",serif' font-weight="bold" font-stretch="condensed" font-size="100" fill="#fff">Nature</text></g>
<rect x="103.5" y="1392.5" width="269.5" height="196.4" fill="#285b70"/>
<g clip-path="url(#m6)"><g fill="none" stroke="#5f8d9f" stroke-width="2" transform="translate(103.5 1392.5)">
<path d="M-5.0,189.0 -2.7,192.7 -0.5,196.5 1.7,200.3"/>
<path d="M-3.3,151.3 -0.5,154.5 2.2,157.8 4.8,161.2 7.3,164.7 9.8,168.2 12.2,171.8 14.5,175.5 16.7,179.3 18.9,183.1 21.0,187.0 23.0,191.0 24.9,195.1 26.8,199.2"/>
<path d="M-4.4,116.4 -1.1,119.1 2.0,122.0 5.1,124.9 8.1,127.9 11.1,130.9 13.9,134.1 16.7,137.3 19.4,140.6 22.0,144.0 24.6,147.4 27.1,150.9 29.5,154.5 31.8,158.2 34.0,162.0 36.2,165.8 38.2,169.8 40.2,173.8 42.2,177.8 44.0,182.0 45.9,186.1 47.6,190.4 49.3,194.7 51.0,199.0"/>
<path d="M-4.6,86.6 -1.1,89.1 2.4,91.6 5.8,94.2 9.1,96.9 12.4,99.6 15.6,102.4 18.8,105.2 21.8,108.2 24.9,111.1 27.8,114.2 30.7,117.3 33.5,120.5 36.2,123.8 38.8,127.2 41.3,130.7 43.8,134.2 46.2,137.8 48.5,141.5 50.7,145.3 52.9,149.1 55.0,153.0 57.0,157.0 58.9,161.1 60.8,165.2 62.6,169.4 64.4,173.6 66.1,177.9 67.7,182.3 69.3,186.7 70.9,191.1 72.5,195.5 74.0,200.0"/>
<path d="M-5.0,57.0 -1.4,59.4 2.2,61.8 5.8,64.2 9.4,66.6 12.9,69.1 16.4,71.6 19.9,74.1 23.3,76.7 26.6,79.4 29.9,82.1 33.1,84.9 36.3,87.7 39.3,90.7 42.4,93.6 45.3,96.7 48.2,99.8 51.0,103.0 53.7,106.3 56.3,109.7 58.8,113.2 61.3,116.7 63.7,120.3 66.0,124.0 68.2,127.8 70.4,131.6 72.5,135.5 74.5,139.5 76.4,143.6 78.3,147.7 80.1,151.9 81.9,156.1 83.6,160.4 85.2,164.8 86.8,169.2 88.4,173.6 90.0,178.0 91.5,182.5 93.0,187.0 94.6,191.4 96.1,195.9 97.6,200.4"/>
<path d="M-4.0,32.0 -0.4,34.4 3.2,36.8 6.9,39.1 10.5,41.5 14.1,43.9 17.7,46.3 21.3,48.7 24.9,51.1 28.4,53.6 31.9,56.1 35.4,58.6 38.8,61.2 42.1,63.9 45.4,66.6 48.6,69.4 51.8,72.2 54.8,75.2 57.9,78.1 60.8,81.2 63.7,84.3 66.5,87.5 69.2,90.8 71.8,94.2 74.3,97.7 76.8,101.2 79.2,104.8 81.5,108.5 83.7,112.3 85.9,116.1 88.0,120.0 90.0,124.0 91.9,128.1 93.8,132.2 95.6,136.4 97.4,140.6 99.1,144.9 100.7,149.3 102.3,153.7 103.9,158.1 105.5,162.5 107.0,167.0 108.5,171.5 110.1,175.9 111.6,180.4 113.1,184.9 114.7,189.3 116.3,193.7 117.9,198.1"/>
<path d="M-4.3,8.3 -0.8,10.8 2.7,13.3 6.3,15.7 10.0,18.0 13.6,20.4 17.2,22.8 20.9,25.1 24.5,27.5 28.1,29.9 31.7,32.3 35.3,34.7 38.9,37.1 42.4,39.6 45.9,42.1 49.4,44.6 52.8,47.2 56.1,49.9 59.4,52.6 62.6,55.4 65.8,58.2 68.8,61.2 71.9,64.1 74.8,67.2 77.7,70.3 80.5,73.5 83.2,76.8 85.8,80.2 88.3,83.7 90.8,87.2 93.2,90.8 95.5,94.5 97.7,98.3 99.9,102.1 102.0,106.0 104.0,110.0 105.9,114.1 107.8,118.2 109.6,122.4 111.4,126.6 113.1,130.9 114.7,135.3 116.3,139.7 117.9,144.1 119.5,148.5 121.0,153.0 122.5,157.5 124.1,161.9 125.6,166.4 127.1,170.9 128.7,175.3 130.3,179.7 131.9,184.1 133.5,188.5 135.2,192.8 137.0,197.0 138.8,201.2"/>
<path d="M37.8,-3.8 41.5,-1.5 45.1,0.9 48.8,3.2 52.4,5.6 56.0,8.0 59.6,10.4 63.2,12.8 66.7,15.3 70.2,17.8 73.6,20.4 77.0,23.0 80.4,25.6 83.6,28.4 86.9,31.1 90.0,34.0 93.1,36.9 96.1,39.9 99.1,42.9 101.9,46.1 104.7,49.3 107.4,52.6 110.0,56.0 112.6,59.4 115.1,62.9 117.5,66.5 119.8,70.2 122.0,74.0 124.2,77.8 126.2,81.8 128.2,85.8 130.2,89.8 132.0,94.0 133.9,98.1 135.6,102.4 137.3,106.7 139.0,111.0 140.6,115.4 142.2,119.8 143.7,124.3 145.3,128.7 146.8,133.2 148.3,137.7 149.8,142.2 151.4,146.6 152.9,151.1 154.5,155.5 156.1,159.9 157.8,164.2 159.5,168.5 161.2,172.8 163.0,177.0 164.9,181.1 166.9,185.1 168.9,189.1 170.9,193.1 173.1,196.9 175.3,200.7"/>
<path d="M86.7,-4.7 90.2,-2.2 93.6,0.4 97.0,3.0 100.4,5.6 103.6,8.4 106.9,11.1 110.0,14.0 113.1,16.9 116.1,19.9 119.1,22.9 121.9,26.1 124.7,29.3 127.4,32.6 130.0,36.0 132.6,39.4 135.1,42.9 137.5,46.5 139.8,50.2 142.0,54.0 144.2,57.8 146.2,61.8 148.2,65.8 150.2,69.8 152.0,74.0 153.9,78.1 155.6,82.4 157.3,86.7 159.0,91.0 160.6,95.4 162.2,99.8 163.7,104.3 165.3,108.7 166.8,113.2 168.3,117.7 169.8,122.2 171.4,126.6 172.9,131.1 174.5,135.5 176.1,139.9 177.8,144.2 179.5,148.5 181.2,152.8 183.0,157.0 184.9,161.1 186.9,165.1 188.9,169.1 190.9,173.1 193.1,176.9 195.3,180.7 197.6,184.4 200.0,188.0 202.5,191.5 205.0,195.0 207.6,198.4 210.3,201.7"/>
<path d="M133.1,-3.1 136.1,-0.1 139.1,2.9 141.9,6.1 144.7,9.3 147.4,12.6 150.0,16.0 152.6,19.4 155.1,22.9 157.5,26.5 159.8,30.2 162.0,34.0 164.2,37.8 166.2,41.8 168.2,45.8 170.2,49.8 172.0,54.0 173.9,58.1 175.6,62.4 177.3,66.7 179.0,71.0 180.6,75.4 182.2,79.8 183.7,84.3 185.3,88.7 186.8,93.2 188.3,97.7 189.8,102.2 191.4,106.6 192.9,111.1 194.5,115.5 196.1,119.9 197.8,124.2 199.5,128.5 201.2,132.8 203.0,137.0 204.9,141.1 206.9,145.1 208.9,149.1 210.9,153.1 213.1,156.9 215.3,160.7 217.6,164.4 220.0,168.0 222.5,171.5 225.0,175.0 227.6,178.4 230.3,181.7 233.1,184.9 236.0,188.0 238.9,191.1 241.9,194.1 245.0,197.0 248.2,199.8"/>
<path d="M165.4,-5.4 168.0,-2.0 170.6,1.4 173.1,4.9 175.5,8.5 177.8,12.2 180.0,16.0 182.2,19.8 184.2,23.8 186.2,27.8 188.2,31.8 190.0,36.0 191.9,40.1 193.6,44.4 195.3,48.7 197.0,53.0 198.6,57.4 200.2,61.8 201.7,66.3 203.3,70.7 204.8,75.2 206.3,79.7 207.8,84.2 209.4,88.6 210.9,93.1 212.5,97.5 214.1,101.9 215.8,106.2 217.5,110.5 219.2,114.8 221.0,119.0 222.9,123.1 224.9,127.1 226.9,131.1 228.9,135.1 231.1,138.9 233.3,142.7 235.6,146.4 238.0,150.0 240.5,153.5 243.0,157.0 245.6,160.4 248.3,163.7 251.1,166.9 254.0,170.0 256.9,173.1 259.9,176.1 263.0,179.0 266.2,181.8 269.4,184.6 272.7,187.3"/>
<path d="M199.0,-3.0 201.2,0.8 203.2,4.8 205.2,8.8 207.2,12.8 209.0,17.0 210.9,21.1 212.6,25.4 214.3,29.7 216.0,34.0 217.6,38.4 219.2,42.8 220.7,47.3 222.3,51.7 223.8,56.2 225.3,60.7 226.8,65.2 228.4,69.6 229.9,74.1 231.5,78.5 233.1,82.9 234.8,87.2 236.5,91.5 238.2,95.8 240.0,100.0 241.9,104.1 243.9,108.1 245.9,112.1 247.9,116.1 250.1,119.9 252.3,123.7 254.6,127.4 257.0,131.0 259.5,134.5 262.0,138.0 264.6,141.4 267.3,144.7 270.1,147.9 273.0,151.0"/>
<path d="M228.0,-2.0 229.9,2.1 231.6,6.4 233.3,10.7 235.0,15.0 236.6,19.4 238.2,23.8 239.7,28.3 241.3,32.7 242.8,37.2 244.3,41.7 245.8,46.2 247.4,50.6 248.9,55.1 250.5,59.5 252.1,63.9 253.8,68.2 255.5,72.5 257.2,76.8 259.0,81.0 260.9,85.1 262.9,89.1 264.9,93.1 266.9,97.1 269.1,100.9 271.3,104.7 273.6,108.4"/>
<path d="M248.8,-4.8 250.5,-0.5 252.1,3.9 253.7,8.3 255.2,12.8 256.8,17.2 258.3,21.7 259.8,26.2 261.3,30.7 262.9,35.1 264.4,39.6 266.0,44.0 267.6,48.4 269.3,52.7 271.0,57.0 272.7,61.3 274.5,65.5"/>
<path d="M271.7,-3.7 273.3,0.7 274.8,5.2"/>
</g></g>
<g filter="url(#f3)"><text transform="matrix(0.9480 0 0 1.0988 115.27 1483.60)" font-family='"DejaVu Serif Condensed","DejaVu Serif",serif' font-weight="bold" font-stretch="condensed" font-size="100" fill="#fff">7</text></g>
<text transform="matrix(0.2606 0 0 0.2595 187.31 1483.50)" font-family='"Liberation Sans",sans-serif' font-weight="bold" font-stretch="normal" font-size="100" fill="#fff">page 113</text>
<g filter="url(#f4)"><text transform="matrix(0.4125 0 0 0.4979 120.27 1535.60)" font-family='"DejaVu Serif Condensed","DejaVu Serif",serif' font-weight="bold" font-stretch="condensed" font-size="100" fill="#fff">Health &amp;</text></g>
<g filter="url(#f4)"><text transform="matrix(0.4240 0 0 0.5021 120.22 1582.30)" font-family='"DejaVu Serif Condensed","DejaVu Serif",serif' font-weight="bold" font-stretch="condensed" font-size="100" fill="#fff">Fitness</text></g>
<rect x="103.5" y="1593.7" width="269.5" height="179.5" fill="#c6c7c9"/>
<g clip-path="url(#m7)"><g fill="none" stroke="#dcdddf" stroke-width="2" transform="translate(103.5 1593.7)">
<path d="M-3.3,151.3 -0.5,154.5 2.2,157.8 4.8,161.2 7.3,164.7 9.8,168.2 12.2,171.8 14.5,175.5 16.7,179.3 18.9,183.1"/>
<path d="M-4.4,116.4 -1.1,119.1 2.0,122.0 5.1,124.9 8.1,127.9 11.1,130.9 13.9,134.1 16.7,137.3 19.4,140.6 22.0,144.0 24.6,147.4 27.1,150.9 29.5,154.5 31.8,158.2 34.0,162.0 36.2,165.8 38.2,169.8 40.2,173.8 42.2,177.8 44.0,182.0"/>
<path d="M-4.6,86.6 -1.1,89.1 2.4,91.6 5.8,94.2 9.1,96.9 12.4,99.6 15.6,102.4 18.8,105.2 21.8,108.2 24.9,111.1 27.8,114.2 30.7,117.3 33.5,120.5 36.2,123.8 38.8,127.2 41.3,130.7 43.8,134.2 46.2,137.8 48.5,141.5 50.7,145.3 52.9,149.1 55.0,153.0 57.0,157.0 58.9,161.1 60.8,165.2 62.6,169.4 64.4,173.6 66.1,177.9 67.7,182.3"/>
<path d="M-5.0,57.0 -1.4,59.4 2.2,61.8 5.8,64.2 9.4,66.6 12.9,69.1 16.4,71.6 19.9,74.1 23.3,76.7 26.6,79.4 29.9,82.1 33.1,84.9 36.3,87.7 39.3,90.7 42.4,93.6 45.3,96.7 48.2,99.8 51.0,103.0 53.7,106.3 56.3,109.7 58.8,113.2 61.3,116.7 63.7,120.3 66.0,124.0 68.2,127.8 70.4,131.6 72.5,135.5 74.5,139.5 76.4,143.6 78.3,147.7 80.1,151.9 81.9,156.1 83.6,160.4 85.2,164.8 86.8,169.2 88.4,173.6 90.0,178.0 91.5,182.5"/>
<path d="M-4.0,32.0 -0.4,34.4 3.2,36.8 6.9,39.1 10.5,41.5 14.1,43.9 17.7,46.3 21.3,48.7 24.9,51.1 28.4,53.6 31.9,56.1 35.4,58.6 38.8,61.2 42.1,63.9 45.4,66.6 48.6,69.4 51.8,72.2 54.8,75.2 57.9,78.1 60.8,81.2 63.7,84.3 66.5,87.5 69.2,90.8 71.8,94.2 74.3,97.7 76.8,101.2 79.2,104.8 81.5,108.5 83.7,112.3 85.9,116.1 88.0,120.0 90.0,124.0 91.9,128.1 93.8,132.2 95.6,136.4 97.4,140.6 99.1,144.9 100.7,149.3 102.3,153.7 103.9,158.1 105.5,162.5 107.0,167.0 108.5,171.5 110.1,175.9 111.6,180.4 113.1,184.9"/>
<path d="M-4.3,8.3 -0.8,10.8 2.7,13.3 6.3,15.7 10.0,18.0 13.6,20.4 17.2,22.8 20.9,25.1 24.5,27.5 28.1,29.9 31.7,32.3 35.3,34.7 38.9,37.1 42.4,39.6 45.9,42.1 49.4,44.6 52.8,47.2 56.1,49.9 59.4,52.6 62.6,55.4 65.8,58.2 68.8,61.2 71.9,64.1 74.8,67.2 77.7,70.3 80.5,73.5 83.2,76.8 85.8,80.2 88.3,83.7 90.8,87.2 93.2,90.8 95.5,94.5 97.7,98.3 99.9,102.1 102.0,106.0 104.0,110.0 105.9,114.1 107.8,118.2 109.6,122.4 111.4,126.6 113.1,130.9 114.7,135.3 116.3,139.7 117.9,144.1 119.5,148.5 121.0,153.0 122.5,157.5 124.1,161.9 125.6,166.4 127.1,170.9 128.7,175.3 130.3,179.7 131.9,184.1"/>
<path d="M37.8,-3.8 41.5,-1.5 45.1,0.9 48.8,3.2 52.4,5.6 56.0,8.0 59.6,10.4 63.2,12.8 66.7,15.3 70.2,17.8 73.6,20.4 77.0,23.0 80.4,25.6 83.6,28.4 86.9,31.1 90.0,34.0 93.1,36.9 96.1,39.9 99.1,42.9 101.9,46.1 104.7,49.3 107.4,52.6 110.0,56.0 112.6,59.4 115.1,62.9 117.5,66.5 119.8,70.2 122.0,74.0 124.2,77.8 126.2,81.8 128.2,85.8 130.2,89.8 132.0,94.0 133.9,98.1 135.6,102.4 137.3,106.7 139.0,111.0 140.6,115.4 142.2,119.8 143.7,124.3 145.3,128.7 146.8,133.2 148.3,137.7 149.8,142.2 151.4,146.6 152.9,151.1 154.5,155.5 156.1,159.9 157.8,164.2 159.5,168.5 161.2,172.8 163.0,177.0 164.9,181.1 166.9,185.1"/>
<path d="M86.7,-4.7 90.2,-2.2 93.6,0.4 97.0,3.0 100.4,5.6 103.6,8.4 106.9,11.1 110.0,14.0 113.1,16.9 116.1,19.9 119.1,22.9 121.9,26.1 124.7,29.3 127.4,32.6 130.0,36.0 132.6,39.4 135.1,42.9 137.5,46.5 139.8,50.2 142.0,54.0 144.2,57.8 146.2,61.8 148.2,65.8 150.2,69.8 152.0,74.0 153.9,78.1 155.6,82.4 157.3,86.7 159.0,91.0 160.6,95.4 162.2,99.8 163.7,104.3 165.3,108.7 166.8,113.2 168.3,117.7 169.8,122.2 171.4,126.6 172.9,131.1 174.5,135.5 176.1,139.9 177.8,144.2 179.5,148.5 181.2,152.8 183.0,157.0 184.9,161.1 186.9,165.1 188.9,169.1 190.9,173.1 193.1,176.9 195.3,180.7 197.6,184.4"/>
<path d="M133.1,-3.1 136.1,-0.1 139.1,2.9 141.9,6.1 144.7,9.3 147.4,12.6 150.0,16.0 152.6,19.4 155.1,22.9 157.5,26.5 159.8,30.2 162.0,34.0 164.2,37.8 166.2,41.8 168.2,45.8 170.2,49.8 172.0,54.0 173.9,58.1 175.6,62.4 177.3,66.7 179.0,71.0 180.6,75.4 182.2,79.8 183.7,84.3 185.3,88.7 186.8,93.2 188.3,97.7 189.8,102.2 191.4,106.6 192.9,111.1 194.5,115.5 196.1,119.9 197.8,124.2 199.5,128.5 201.2,132.8 203.0,137.0 204.9,141.1 206.9,145.1 208.9,149.1 210.9,153.1 213.1,156.9 215.3,160.7 217.6,164.4 220.0,168.0 222.5,171.5 225.0,175.0 227.6,178.4 230.3,181.7 233.1,184.9"/>
<path d="M165.4,-5.4 168.0,-2.0 170.6,1.4 173.1,4.9 175.5,8.5 177.8,12.2 180.0,16.0 182.2,19.8 184.2,23.8 186.2,27.8 188.2,31.8 190.0,36.0 191.9,40.1 193.6,44.4 195.3,48.7 197.0,53.0 198.6,57.4 200.2,61.8 201.7,66.3 203.3,70.7 204.8,75.2 206.3,79.7 207.8,84.2 209.4,88.6 210.9,93.1 212.5,97.5 214.1,101.9 215.8,106.2 217.5,110.5 219.2,114.8 221.0,119.0 222.9,123.1 224.9,127.1 226.9,131.1 228.9,135.1 231.1,138.9 233.3,142.7 235.6,146.4 238.0,150.0 240.5,153.5 243.0,157.0 245.6,160.4 248.3,163.7 251.1,166.9 254.0,170.0 256.9,173.1 259.9,176.1 263.0,179.0 266.2,181.8 269.4,184.6"/>
<path d="M199.0,-3.0 201.2,0.8 203.2,4.8 205.2,8.8 207.2,12.8 209.0,17.0 210.9,21.1 212.6,25.4 214.3,29.7 216.0,34.0 217.6,38.4 219.2,42.8 220.7,47.3 222.3,51.7 223.8,56.2 225.3,60.7 226.8,65.2 228.4,69.6 229.9,74.1 231.5,78.5 233.1,82.9 234.8,87.2 236.5,91.5 238.2,95.8 240.0,100.0 241.9,104.1 243.9,108.1 245.9,112.1 247.9,116.1 250.1,119.9 252.3,123.7 254.6,127.4 257.0,131.0 259.5,134.5 262.0,138.0 264.6,141.4 267.3,144.7 270.1,147.9 273.0,151.0"/>
<path d="M228.0,-2.0 229.9,2.1 231.6,6.4 233.3,10.7 235.0,15.0 236.6,19.4 238.2,23.8 239.7,28.3 241.3,32.7 242.8,37.2 244.3,41.7 245.8,46.2 247.4,50.6 248.9,55.1 250.5,59.5 252.1,63.9 253.8,68.2 255.5,72.5 257.2,76.8 259.0,81.0 260.9,85.1 262.9,89.1 264.9,93.1 266.9,97.1 269.1,100.9 271.3,104.7 273.6,108.4"/>
<path d="M248.8,-4.8 250.5,-0.5 252.1,3.9 253.7,8.3 255.2,12.8 256.8,17.2 258.3,21.7 259.8,26.2 261.3,30.7 262.9,35.1 264.4,39.6 266.0,44.0 267.6,48.4 269.3,52.7 271.0,57.0 272.7,61.3 274.5,65.5"/>
<path d="M271.7,-3.7 273.3,0.7 274.8,5.2"/>
</g></g>
<g filter="url(#f3)"><text transform="matrix(0.8874 0 0 1.0660 118.62 1688.40)" font-family='"DejaVu Serif Condensed","DejaVu Serif",serif' font-weight="bold" font-stretch="condensed" font-size="100" fill="#fff">8</text></g>
<text transform="matrix(0.2529 0 0 0.2595 187.36 1698.20)" font-family='"Liberation Sans",sans-serif' font-weight="bold" font-stretch="normal" font-size="100" fill="#fff">page 131</text>
<g filter="url(#f4)"><text transform="matrix(0.4094 0 0 0.4993 120.49 1743.00)" font-family='"DejaVu Serif Condensed","DejaVu Serif",serif' font-weight="bold" font-stretch="condensed" font-size="100" fill="#fff">Modern life</text></g>
</svg>
</body></html>
